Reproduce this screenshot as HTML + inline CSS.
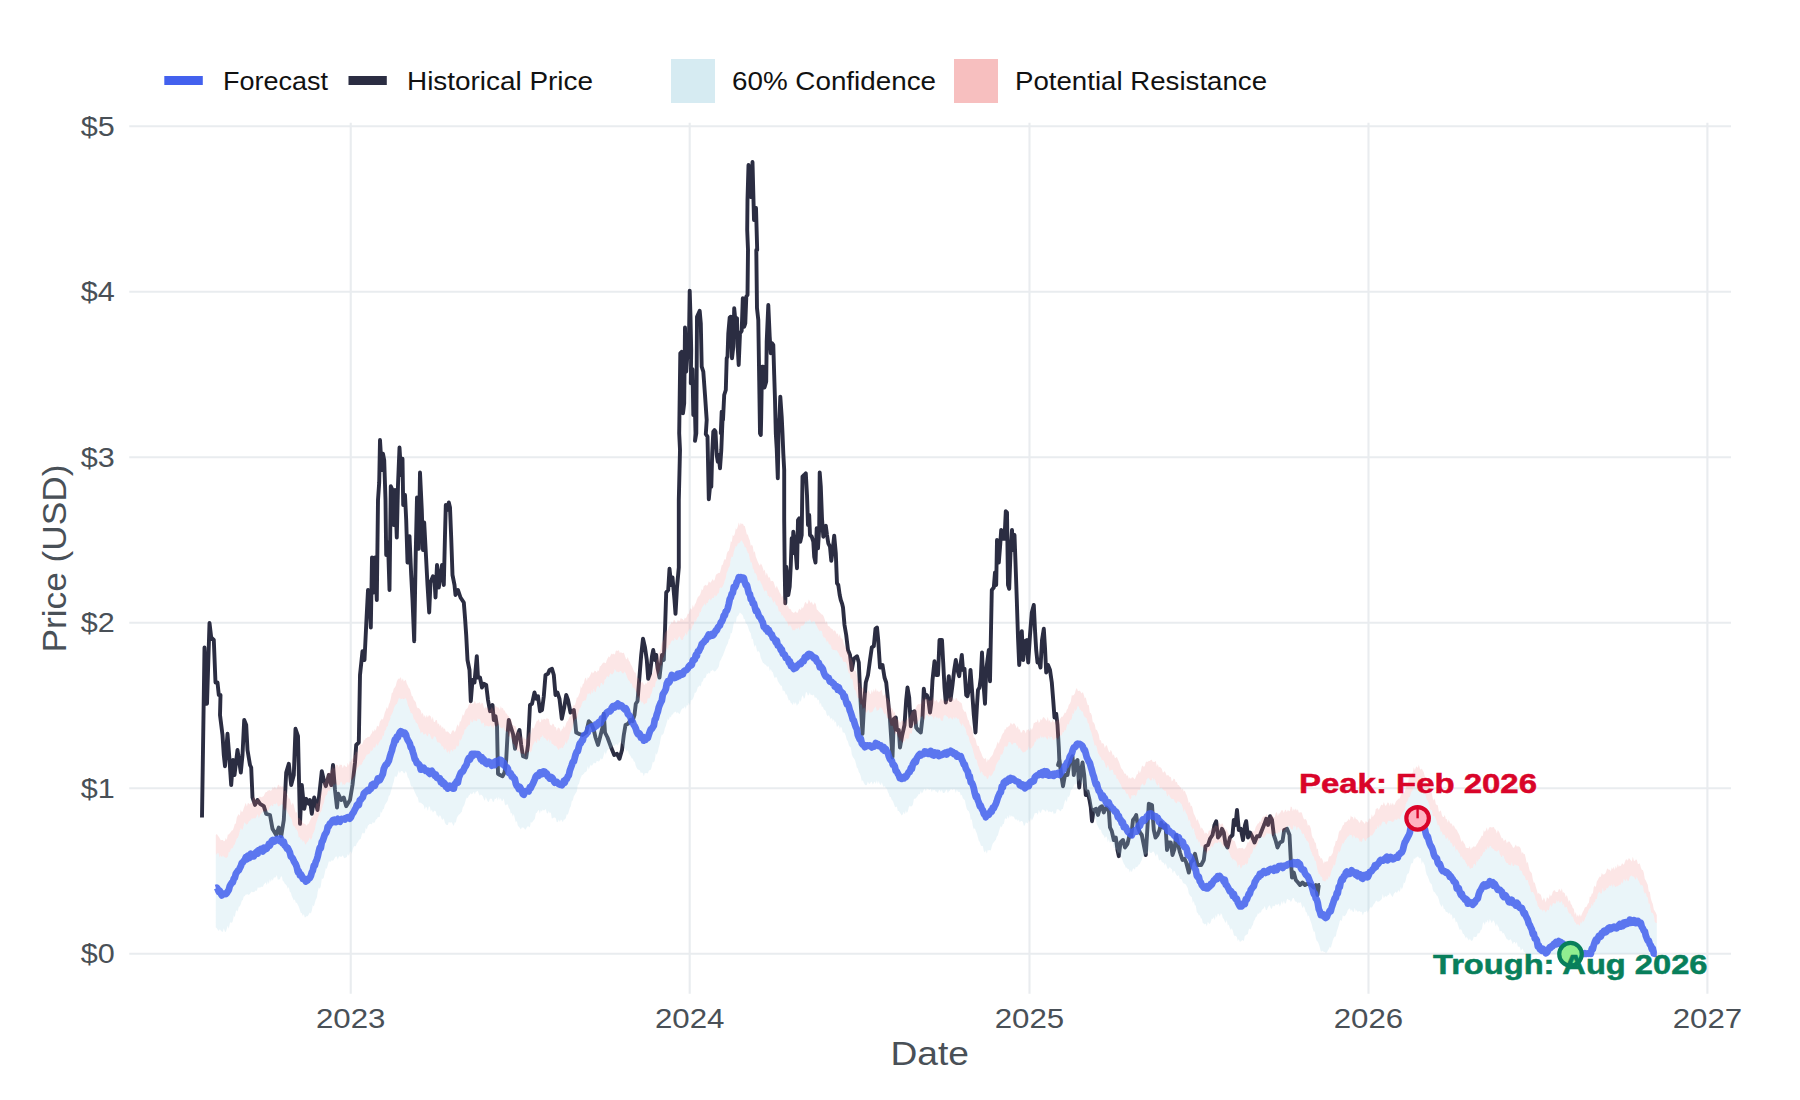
<!DOCTYPE html>
<html><head><meta charset="utf-8"><title>Price Forecast</title>
<style>html,body{margin:0;padding:0;background:#fff;width:1800px;height:1100px;overflow:hidden;font-family:"Liberation Sans",sans-serif}</style>
</head><body>
<svg width="1800" height="1100" viewBox="0 0 1800 1100" style="position:absolute;left:0;top:0">
<rect width="1800" height="1100" fill="#ffffff"/>
<g stroke="#e9ecef" stroke-width="2.1" fill="none"><line x1="129.25" y1="953.75" x2="1731" y2="953.75"/><line x1="129.25" y1="788.25" x2="1731" y2="788.25"/><line x1="129.25" y1="622.75" x2="1731" y2="622.75"/><line x1="129.25" y1="457.25" x2="1731" y2="457.25"/><line x1="129.25" y1="291.75" x2="1731" y2="291.75"/><line x1="129.25" y1="126.25" x2="1731" y2="126.25"/><line x1="350.75" y1="122.8" x2="350.75" y2="993.75"/><line x1="689.7" y1="122.8" x2="689.7" y2="993.75"/><line x1="1029.5" y1="122.8" x2="1029.5" y2="993.75"/><line x1="1368.5" y1="122.8" x2="1368.5" y2="993.75"/><line x1="1707.4" y1="122.8" x2="1707.4" y2="993.75"/></g>
<path d="M202.0 817.5L204.5 647.5L207.0 703.8L209.5 623.0L211.2 637.5L213.8 640.0L215.5 682.5L217.5 682.5L218.8 695.0L220.5 695.0L220.0 715.0L222.5 735.0L223.8 755.0L225.0 766.2L227.5 733.8L229.5 760.0L231.2 785.0L233.0 760.0L234.5 775.0L237.5 750.0L240.8 772.5L242.5 755.0L244.2 720.0L246.2 725.0L247.5 750.0L250.0 765.0L251.2 767.5L252.5 797.5L255.0 805.0L257.5 800.0L260.0 803.8L263.8 806.2L266.2 813.8L270.0 815.0L272.5 828.8L276.2 835.0L278.8 827.5L281.2 836.2L283.8 820.0L286.2 772.5L288.8 763.8L291.2 785.0L293.8 775.0L295.5 728.8L298.0 736.2L300.0 823.8L301.8 785.0L304.2 808.8L306.2 798.8L308.8 803.8L310.0 800.0L311.8 813.8L314.2 797.5L317.5 810.0L319.5 792.5L321.8 771.2L323.8 780.0L325.8 786.2L328.8 775.0L331.2 785.0L333.0 765.0L335.0 790.0L337.0 807.5L338.2 793.8L341.2 800.0L343.8 797.5L346.2 806.2L350.0 800.0L352.5 785.0L355.0 762.5L356.2 745.0L358.8 742.5L360.0 675.0L362.5 651.2L364.5 660.0L366.2 625.0L368.0 590.0L369.5 592.5L370.8 627.5L372.0 557.5L373.8 592.5L375.0 557.5L376.8 600.0L378.0 500.0L379.2 482.5L380.0 440.0L381.8 470.0L383.0 453.8L384.2 460.0L385.5 500.0L386.2 555.0L388.0 542.5L389.5 590.0L390.8 486.2L392.5 490.0L393.8 525.0L395.0 490.0L396.8 537.5L398.0 485.0L399.5 447.5L401.2 475.0L402.5 458.8L403.2 505.0L405.0 495.0L406.2 520.0L407.5 562.5L409.5 536.2L411.2 575.0L412.5 600.0L414.2 641.2L415.8 550.0L417.0 497.5L418.8 548.8L420.0 472.5L421.8 510.0L423.0 550.0L424.2 522.5L426.2 560.0L427.5 585.0L429.2 612.5L430.5 582.5L433.0 576.2L434.5 580.0L435.5 597.5L437.0 565.0L438.8 587.5L440.5 575.0L442.0 565.0L443.8 585.0L445.0 535.0L445.8 505.0L447.5 510.0L448.8 502.5L450.0 507.5L451.2 537.5L452.5 575.0L454.5 585.0L455.5 595.0L458.0 590.0L460.5 597.5L463.8 602.5L465.0 617.5L466.2 635.0L467.5 660.0L469.5 670.0L470.8 701.2L472.5 680.0L474.5 682.5L476.8 656.2L478.0 677.5L480.0 677.5L482.0 687.5L483.8 683.8L486.2 685.0L488.0 700.0L490.0 711.2L492.5 705.0L493.8 720.0L495.5 716.2L497.0 726.2L498.0 773.8L500.0 775.0L502.5 776.2L504.5 772.5L506.2 760.0L507.5 735.0L508.8 720.0L510.5 726.2L513.0 733.8L515.0 748.8L517.5 735.0L519.5 730.0L521.2 745.0L523.0 756.2L526.2 757.5L528.0 745.0L530.0 705.0L532.0 703.8L534.5 692.5L536.2 698.8L538.0 696.2L540.0 711.2L542.0 710.0L543.8 696.2L545.5 675.0L548.0 673.8L549.5 670.0L552.0 668.8L553.8 675.0L555.5 695.0L557.5 692.5L559.5 698.8L561.8 718.8L564.2 707.5L566.2 695.0L568.0 700.0L570.5 712.5L573.8 710.0L575.0 720.0L576.2 732.5L578.8 733.8L582.5 735.0L586.2 732.5L588.8 721.2L591.2 723.8L593.8 730.0L595.5 737.5L598.0 745.0L600.0 737.5L602.5 727.5L603.8 713.8L605.0 732.5L607.5 737.5L611.2 747.5L614.2 755.0L617.0 753.8L619.5 758.8L622.0 750.0L623.8 735.0L625.5 725.0L628.0 723.8L630.5 720.0L632.5 721.2L634.5 715.0L635.8 703.8L637.5 701.2L638.8 685.0L640.0 670.0L641.2 655.0L643.0 638.8L645.0 647.5L646.8 660.0L648.2 678.8L650.0 673.8L652.0 656.2L653.2 650.0L655.0 660.0L656.2 655.0L657.5 667.5L659.5 677.5L662.0 655.0L663.8 660.0L665.0 630.0L666.2 592.5L668.2 590.0L669.5 568.8L671.2 585.0L672.5 577.5L674.5 600.0L675.5 613.8L677.0 587.5L678.8 567.5L678.8 500.0L680.0 450.0L679.2 433.3L680.3 353.3L681.7 351.7L683.0 413.3L684.2 403.3L685.0 327.5L686.2 371.7L687.5 353.3L688.7 356.7L689.7 290.8L690.5 316.7L691.2 350.0L690.8 383.3L692.5 369.2L693.3 415.0L694.7 400.0L695.5 433.3L695.0 440.8L696.3 433.3L697.0 316.7L699.7 310.8L700.8 323.3L701.7 366.7L703.3 371.7L705.0 395.0L706.7 420.0L705.8 434.2L707.5 436.7L708.8 499.2L710.0 486.7L711.3 486.7L712.2 453.3L713.3 431.7L714.5 430.0L715.5 431.7L716.7 455.0L717.8 461.7L718.7 455.0L720.0 468.3L721.3 450.0L722.5 420.0L720.8 433.3L721.7 411.7L723.0 420.0L724.2 395.0L725.8 390.0L726.7 358.3L727.5 356.7L728.3 333.3L729.7 317.5L730.8 316.7L732.0 358.3L733.3 346.7L734.2 308.3L735.3 320.0L737.0 318.3L737.5 343.3L738.7 365.0L740.0 333.3L741.7 330.8L742.8 298.3L744.2 326.7L745.3 323.3L746.3 296.7L747.5 295.0L748.0 250.0L747.2 230.0L747.5 200.0L748.5 165.0L750.5 197.0L752.5 162.0L754.0 220.0L756.0 208.0L757.2 250.0L756.3 250.0L757.0 308.3L758.3 320.0L759.2 380.0L760.0 433.3L760.8 435.0L761.2 416.7L762.0 366.7L763.3 366.7L764.5 387.5L766.2 381.7L766.7 341.7L768.3 305.0L769.7 336.7L770.8 353.3L772.0 343.3L773.3 345.0L774.2 375.0L775.0 400.0L775.8 433.3L776.7 448.3L777.8 478.3L778.7 420.0L779.2 425.0L780.3 396.7L781.7 416.7L782.5 433.3L783.3 453.3L784.2 470.0L784.2 520.0L784.7 570.0L785.3 603.3L786.2 566.7L787.5 580.0L788.3 595.0L789.7 586.7L790.8 565.0L791.7 538.3L792.5 553.3L793.3 531.7L794.7 543.3L795.8 553.3L797.0 568.3L798.0 520.0L799.2 518.3L800.3 541.7L801.7 535.0L802.5 476.7L804.2 475.0L805.8 473.3L807.0 495.0L808.0 525.0L809.2 515.0L810.0 535.0L811.7 536.7L813.3 541.7L814.2 556.7L815.5 562.5L816.7 528.3L818.0 548.3L819.2 528.3L819.7 472.5L820.8 486.7L822.0 518.3L823.3 536.7L824.7 526.7L825.8 525.8L827.0 535.0L828.3 543.3L830.0 546.7L831.3 560.8L832.5 551.7L834.2 535.8L835.8 553.3L837.0 583.3L838.3 585.0L839.7 595.0L840.8 600.0L842.0 603.3L843.0 607.5L844.5 625.0L846.2 635.0L848.0 650.0L850.0 655.0L851.8 670.0L853.8 658.8L857.0 656.2L858.8 662.5L860.5 700.0L862.5 733.8L864.2 702.5L865.8 682.5L868.0 675.0L870.0 660.0L871.8 647.5L873.8 646.2L875.5 628.8L877.0 627.5L878.2 640.0L880.0 667.5L882.5 665.0L884.5 677.5L886.2 682.5L888.0 700.0L890.0 720.0L892.5 757.5L893.8 718.8L895.8 717.5L897.0 730.0L898.8 730.0L900.0 747.5L902.0 736.2L904.5 725.0L906.2 700.0L907.5 687.5L909.2 697.5L910.8 726.2L912.5 712.5L914.5 711.2L916.2 727.5L918.0 730.0L920.8 732.5L922.5 717.5L923.8 688.8L925.0 697.5L926.8 695.0L928.2 698.8L930.0 712.5L931.2 703.8L932.5 680.0L934.5 661.2L936.2 675.0L938.0 675.0L939.5 640.0L942.0 640.0L943.2 662.5L944.5 687.5L945.8 702.5L947.5 690.0L948.8 676.2L950.5 700.0L952.5 685.0L954.2 670.0L955.8 660.0L957.5 670.0L959.2 676.2L960.5 665.0L961.8 655.0L963.0 670.0L964.5 668.8L966.2 695.0L967.5 696.2L969.2 687.5L970.5 670.0L972.0 690.0L973.8 715.0L975.5 732.5L977.0 705.0L978.0 690.0L979.5 687.5L980.8 677.5L982.0 652.5L983.2 680.0L985.0 703.8L986.2 670.0L987.5 660.0L988.8 650.0L990.0 681.2L990.8 640.0L991.8 590.0L993.8 587.5L995.0 572.5L996.2 585.0L997.0 540.0L998.8 562.5L1000.0 547.5L1001.2 530.0L1003.0 538.8L1004.5 538.8L1005.8 511.2L1007.0 512.5L1008.0 585.0L1009.2 588.8L1010.5 552.5L1012.0 530.0L1013.2 550.0L1014.5 535.0L1015.5 562.5L1016.8 600.0L1018.0 637.5L1019.2 665.0L1020.8 642.5L1021.8 631.2L1023.2 660.0L1025.0 641.2L1026.8 640.0L1028.2 662.5L1030.0 635.0L1031.8 612.5L1033.8 605.0L1035.0 630.0L1036.2 650.0L1037.5 662.5L1039.2 662.5L1040.5 667.5L1042.0 640.0L1043.8 628.8L1045.0 647.5L1046.2 672.5L1048.0 665.0L1050.0 670.0L1051.8 682.5L1053.2 700.0L1054.5 717.5L1056.2 713.8L1057.5 725.0L1058.8 747.5L1059.5 765.0L1058.0 765.0L1059.5 760.0L1061.2 775.0L1063.0 786.2L1065.0 775.0L1067.5 775.0L1069.2 765.0L1070.8 760.0L1072.5 756.2L1073.8 775.0L1075.5 762.5L1077.5 760.0L1079.2 787.5L1080.8 772.5L1082.5 762.5L1084.2 775.0L1085.8 795.0L1087.5 791.2L1089.5 800.0L1090.8 807.5L1092.0 821.2L1093.8 810.0L1096.2 808.8L1098.0 815.0L1100.0 807.5L1102.0 806.2L1103.8 812.5L1106.2 807.5L1108.8 810.0L1110.0 827.5L1111.8 831.2L1113.8 840.0L1115.8 837.5L1117.5 850.0L1118.8 856.2L1120.5 842.5L1123.0 840.0L1125.0 847.5L1127.5 843.8L1129.5 835.0L1131.2 836.2L1133.0 820.0L1135.0 817.5L1136.2 815.0L1138.0 827.5L1140.0 832.5L1141.8 835.0L1143.8 845.0L1145.8 855.0L1147.0 835.0L1148.8 803.8L1152.0 805.0L1153.8 830.0L1155.5 837.5L1157.5 835.0L1159.5 830.0L1161.2 822.5L1163.2 827.5L1165.5 825.0L1167.0 850.0L1168.8 842.5L1170.8 842.5L1172.5 855.0L1174.5 848.8L1176.2 835.0L1178.2 845.0L1180.0 852.5L1182.5 860.0L1184.5 858.8L1186.2 862.5L1188.8 872.5L1190.8 862.5L1193.0 860.0L1195.0 853.8L1197.5 865.0L1201.2 865.0L1203.8 860.0L1205.5 846.2L1208.0 845.0L1210.0 838.8L1212.5 835.0L1214.5 825.0L1216.2 821.2L1218.0 837.5L1220.0 835.0L1222.0 828.8L1223.8 832.5L1225.5 843.8L1227.5 847.5L1230.0 837.5L1232.5 835.0L1233.8 820.0L1235.5 825.0L1237.0 810.0L1238.8 830.0L1240.8 828.8L1243.0 840.0L1245.0 825.0L1246.2 821.2L1248.0 837.5L1250.0 832.5L1252.0 836.2L1254.5 842.5L1257.0 836.2L1259.5 836.2L1262.0 830.0L1264.5 823.8L1266.2 818.8L1268.0 825.0L1270.0 816.2L1272.0 820.0L1273.8 835.0L1275.5 840.0L1277.5 847.5L1280.0 842.5L1282.5 841.2L1284.2 830.0L1287.0 828.8L1289.5 835.0L1290.8 860.0L1292.0 877.5L1293.8 872.5L1295.8 880.0L1298.0 882.5L1300.0 885.0L1302.5 882.5L1305.0 885.0L1307.5 883.8L1311.2 885.0L1313.8 887.5L1315.8 885.0L1317.5 895.0L1318.8 885.0L1320.0 885.0" fill="none" stroke="#2b2d42" stroke-width="3.9" stroke-linejoin="round" stroke-linecap="butt"/>
<path d="M215.8 852.7L216.8 855.1L217.8 852.4L218.8 853.9L219.8 857.7L220.8 854.9L221.8 857.4L222.8 855.4L223.8 856.6L224.8 857.2L225.8 857.9L226.8 857.5L227.8 856.7L228.8 851.7L229.8 852.2L230.8 849.1L231.8 848.3L232.8 848.2L233.8 844.9L234.8 844.4L235.8 841.1L236.8 838.4L237.8 837.8L238.8 835.6L239.8 831.0L240.8 827.8L241.8 829.7L242.8 829.5L243.8 824.6L244.8 821.9L245.8 823.9L246.8 824.4L247.8 823.8L248.8 821.2L249.8 820.7L250.8 819.9L251.8 818.0L252.8 819.0L253.8 817.9L254.8 818.5L255.8 818.0L256.8 816.1L257.8 813.9L258.8 818.3L259.8 815.8L260.8 813.8L261.8 813.2L262.8 811.1L263.8 811.9L264.8 810.7L265.8 812.3L266.8 809.6L267.8 811.5L268.8 809.7L269.8 806.7L270.8 805.8L271.8 805.1L272.8 806.8L273.8 803.6L274.8 803.9L275.8 804.3L276.8 802.6L277.8 806.1L278.8 806.5L279.8 805.6L280.8 804.9L281.8 804.0L282.8 805.1L283.8 809.4L284.8 810.7L285.8 807.6L286.8 810.7L287.8 813.0L288.8 814.5L289.8 817.1L290.8 817.7L291.8 819.6L292.8 825.0L293.8 826.2L294.8 826.5L295.8 829.5L296.8 829.4L297.8 832.0L298.8 837.7L299.8 836.7L300.8 840.2L301.8 839.1L302.8 842.0L303.8 840.3L304.8 843.5L305.8 844.8L306.8 842.3L307.8 841.8L308.8 839.8L309.8 837.5L310.8 840.0L311.8 838.2L312.8 833.7L313.8 832.2L314.8 829.7L315.8 824.0L316.8 821.3L317.8 818.0L318.8 815.4L319.8 811.9L320.8 812.6L321.8 809.4L322.8 805.0L323.8 803.3L324.8 798.3L325.8 795.4L326.8 795.0L327.8 791.7L328.8 790.1L329.8 791.4L330.8 785.9L331.8 787.7L332.8 786.7L333.8 783.3L334.8 785.0L335.8 783.0L336.8 784.9L337.8 785.3L338.8 785.2L339.8 784.5L340.8 781.5L341.8 782.3L342.8 785.4L343.8 783.7L344.8 785.3L345.8 783.1L346.8 782.3L347.8 782.2L348.8 782.8L349.8 782.6L350.8 778.5L351.8 780.4L352.8 779.1L353.8 776.9L354.8 775.7L355.8 772.6L356.8 769.6L357.8 767.2L358.8 766.4L359.8 764.1L360.8 765.6L361.8 764.2L362.8 761.7L363.8 759.7L364.8 758.9L365.8 756.5L366.8 754.5L367.8 754.6L368.8 754.1L369.8 753.3L370.8 749.8L371.8 751.3L372.8 749.7L373.8 746.7L374.8 748.2L375.8 745.8L376.8 743.6L377.8 746.3L378.8 743.1L379.8 741.3L380.8 739.3L381.8 740.1L382.8 735.0L383.8 736.2L384.8 730.5L385.8 730.2L386.8 726.3L387.8 726.6L388.8 721.8L389.8 720.3L390.8 715.7L391.8 714.3L392.8 712.3L393.8 708.4L394.8 706.0L395.8 704.4L396.8 704.1L397.8 701.6L398.8 698.2L399.8 698.2L400.8 699.2L401.8 698.9L402.8 698.4L403.8 699.5L404.8 698.6L405.8 698.2L406.8 700.4L407.8 705.1L408.8 707.1L409.8 710.0L410.8 713.3L411.8 713.0L412.8 714.7L413.8 720.0L414.8 719.2L415.8 722.4L416.8 723.0L417.8 724.6L418.8 728.0L419.8 729.4L420.8 733.6L421.8 732.1L422.8 732.3L423.8 734.9L424.8 734.1L425.8 733.4L426.8 735.8L427.8 736.4L428.8 733.1L429.8 734.3L430.8 737.1L431.8 739.1L432.8 739.3L433.8 736.7L434.8 736.2L435.8 737.1L436.8 741.0L437.8 742.4L438.8 742.4L439.8 742.8L440.8 744.3L441.8 746.7L442.8 746.1L443.8 748.8L444.8 749.9L445.8 748.0L446.8 752.0L447.8 752.7L448.8 750.5L449.8 754.0L450.8 749.6L451.8 750.1L452.8 751.8L453.8 749.0L454.8 749.7L455.8 748.7L456.8 745.0L457.8 746.7L458.8 745.6L459.8 739.0L460.8 740.8L461.8 738.2L462.8 735.0L463.8 734.1L464.8 728.8L465.8 729.7L466.8 726.7L467.8 726.4L468.8 724.4L469.8 725.1L470.8 719.3L471.8 722.6L472.8 722.1L473.8 719.3L474.8 721.1L475.8 720.5L476.8 721.6L477.8 718.2L478.8 719.5L479.8 719.0L480.8 721.8L481.8 724.2L482.8 722.7L483.8 722.7L484.8 727.6L485.8 725.1L486.8 726.0L487.8 725.9L488.8 726.8L489.8 726.1L490.8 724.7L491.8 727.5L492.8 725.7L493.8 729.6L494.8 724.5L495.8 726.3L496.8 726.6L497.8 724.8L498.8 724.8L499.8 726.8L500.8 727.9L501.8 728.0L502.8 728.9L503.8 726.3L504.8 731.1L505.8 731.1L506.8 732.1L507.8 731.3L508.8 737.2L509.8 735.6L510.8 737.9L511.8 739.0L512.8 743.5L513.8 744.1L514.8 745.5L515.8 748.1L516.8 749.5L517.8 752.2L518.8 750.0L519.8 752.3L520.8 753.0L521.8 754.1L522.8 753.8L523.8 753.8L524.8 753.9L525.8 757.6L526.8 752.8L527.8 752.2L528.8 752.1L529.8 750.7L530.8 752.7L531.8 749.9L532.8 744.9L533.8 743.7L534.8 741.3L535.8 741.5L536.8 743.4L537.8 737.9L538.8 741.0L539.8 740.5L540.8 736.4L541.8 737.3L542.8 734.7L543.8 738.6L544.8 737.4L545.8 739.2L546.8 740.3L547.8 741.2L548.8 738.4L549.8 743.0L550.8 739.6L551.8 744.3L552.8 743.9L553.8 744.9L554.8 746.0L555.8 745.5L556.8 747.3L557.8 749.1L558.8 750.1L559.8 747.8L560.8 748.4L561.8 747.1L562.8 748.7L563.8 745.6L564.8 744.4L565.8 741.0L566.8 744.0L567.8 739.9L568.8 739.3L569.8 734.0L570.8 731.7L571.8 730.1L572.8 726.2L573.8 722.0L574.8 719.0L575.8 719.0L576.8 718.0L577.8 714.6L578.8 710.7L579.8 707.9L580.8 707.3L581.8 704.0L582.8 701.2L583.8 701.1L584.8 700.3L585.8 700.5L586.8 696.4L587.8 693.3L588.8 694.2L589.8 692.8L590.8 694.9L591.8 690.0L592.8 693.7L593.8 688.6L594.8 691.9L595.8 691.8L596.8 687.1L597.8 686.0L598.8 686.4L599.8 688.2L600.8 683.1L601.8 682.8L602.8 685.0L603.8 684.3L604.8 679.3L605.8 679.2L606.8 676.4L607.8 675.9L608.8 677.6L609.8 674.1L610.8 673.2L611.8 674.5L612.8 674.0L613.8 672.4L614.8 668.9L615.8 670.5L616.8 672.2L617.8 671.6L618.8 672.5L619.8 671.2L620.8 670.8L621.8 672.6L622.8 673.4L623.8 672.9L624.8 671.4L625.8 673.7L626.8 676.4L627.8 679.0L628.8 680.4L629.8 681.2L630.8 684.3L631.8 683.1L632.8 688.2L633.8 687.4L634.8 688.9L635.8 691.3L636.8 692.5L637.8 698.2L638.8 695.5L639.8 701.5L640.8 700.1L641.8 703.4L642.8 701.6L643.8 704.4L644.8 704.1L645.8 702.9L646.8 703.2L647.8 697.9L648.8 698.4L649.8 698.1L650.8 694.6L651.8 693.1L652.8 688.1L653.8 686.5L654.8 687.6L655.8 681.8L656.8 680.7L657.8 674.4L658.8 672.9L659.8 670.0L660.8 664.8L661.8 665.4L662.8 658.0L663.8 656.9L664.8 653.1L665.8 650.6L666.8 647.0L667.8 649.9L668.8 645.0L669.8 645.0L670.8 642.7L671.8 640.6L672.8 640.2L673.8 641.0L674.8 637.5L675.8 640.1L676.8 640.1L677.8 639.4L678.8 636.8L679.8 636.6L680.8 638.9L681.8 640.3L682.8 639.7L683.8 636.4L684.8 635.4L685.8 632.4L686.8 636.1L687.8 631.8L688.8 630.5L689.8 628.0L690.8 631.0L691.8 628.2L692.8 625.3L693.8 624.4L694.8 619.2L695.8 622.3L696.8 618.6L697.8 617.0L698.8 615.9L699.8 611.5L700.8 612.4L701.8 607.9L702.8 606.6L703.8 605.1L704.8 603.4L705.8 605.8L706.8 602.4L707.8 603.1L708.8 599.7L709.8 598.5L710.8 600.5L711.8 598.5L712.8 597.6L713.8 597.9L714.8 594.7L715.8 596.4L716.8 595.6L717.8 593.3L718.8 593.2L719.8 587.8L720.8 587.4L721.8 588.0L722.8 585.9L723.8 583.7L724.8 580.6L725.8 578.2L726.8 572.3L727.8 570.4L728.8 567.2L729.8 566.3L730.8 558.8L731.8 556.2L732.8 557.3L733.8 552.0L734.8 548.5L735.8 546.0L736.8 546.5L737.8 543.4L738.8 543.2L739.8 542.4L740.8 541.1L741.8 540.2L742.8 542.5L743.8 544.3L744.8 547.6L745.8 546.7L746.8 550.2L747.8 552.8L748.8 553.7L749.8 559.0L750.8 562.8L751.8 562.3L752.8 568.4L753.8 569.4L754.8 573.5L755.8 573.2L756.8 575.7L757.8 580.7L758.8 580.5L759.8 580.1L760.8 582.9L761.8 584.3L762.8 587.5L763.8 590.0L764.8 591.7L765.8 589.9L766.8 591.2L767.8 595.7L768.8 596.0L769.8 597.9L770.8 596.2L771.8 598.5L772.8 601.2L773.8 602.9L774.8 600.6L775.8 604.8L776.8 605.4L777.8 606.6L778.8 611.3L779.8 611.5L780.8 612.4L781.8 616.0L782.8 615.0L783.8 617.8L784.8 618.0L785.8 621.5L786.8 621.1L787.8 624.1L788.8 626.7L789.8 624.7L790.8 626.2L791.8 628.5L792.8 630.4L793.8 630.1L794.8 630.6L795.8 628.6L796.8 628.6L797.8 628.7L798.8 627.0L799.8 630.8L800.8 625.6L801.8 626.1L802.8 625.5L803.8 625.2L804.8 623.1L805.8 620.7L806.8 622.5L807.8 620.0L808.8 621.2L809.8 618.9L810.8 621.2L811.8 622.8L812.8 621.2L813.8 621.4L814.8 621.6L815.8 624.9L816.8 625.7L817.8 628.6L818.8 630.0L819.8 631.2L820.8 630.4L821.8 631.0L822.8 635.8L823.8 637.8L824.8 637.6L825.8 639.1L826.8 642.6L827.8 640.4L828.8 644.1L829.8 644.6L830.8 645.3L831.8 649.1L832.8 649.7L833.8 650.1L834.8 649.8L835.8 650.7L836.8 649.9L837.8 652.0L838.8 653.5L839.8 655.9L840.8 657.5L841.8 657.1L842.8 660.7L843.8 661.9L844.8 661.7L845.8 662.0L846.8 664.5L847.8 669.3L848.8 673.2L849.8 673.3L850.8 679.4L851.8 678.2L852.8 680.8L853.8 687.9L854.8 689.9L855.8 690.8L856.8 695.3L857.8 698.8L858.8 697.6L859.8 702.1L860.8 705.1L861.8 704.0L862.8 709.6L863.8 707.3L864.8 707.8L865.8 712.3L866.8 712.7L867.8 710.5L868.8 709.4L869.8 712.9L870.8 712.3L871.8 712.3L872.8 711.2L873.8 708.8L874.8 707.5L875.8 706.5L876.8 711.0L877.8 710.3L878.8 709.9L879.8 707.2L880.8 707.4L881.8 708.2L882.8 710.2L883.8 713.0L884.8 714.6L885.8 713.1L886.8 717.5L887.8 718.2L888.8 718.4L889.8 722.4L890.8 725.9L891.8 725.6L892.8 726.0L893.8 729.5L894.8 733.2L895.8 734.6L896.8 732.7L897.8 736.2L898.8 737.7L899.8 741.7L900.8 738.9L901.8 741.7L902.8 743.1L903.8 740.5L904.8 742.0L905.8 737.8L906.8 738.7L907.8 738.9L908.8 737.9L909.8 733.2L910.8 733.3L911.8 733.7L912.8 727.0L913.8 725.7L914.8 724.4L915.8 723.8L916.8 724.6L917.8 720.9L918.8 721.3L919.8 718.4L920.8 716.9L921.8 716.5L922.8 715.9L923.8 719.6L924.8 719.5L925.8 715.4L926.8 714.8L927.8 715.6L928.8 717.2L929.8 716.1L930.8 715.7L931.8 716.2L932.8 716.8L933.8 719.7L934.8 716.4L935.8 716.4L936.8 718.6L937.8 717.0L938.8 718.9L939.8 717.0L940.8 720.2L941.8 720.8L942.8 720.7L943.8 715.8L944.8 715.2L945.8 715.3L946.8 716.6L947.8 717.0L948.8 719.0L949.8 718.0L950.8 717.3L951.8 719.1L952.8 719.5L953.8 716.4L954.8 719.2L955.8 716.8L956.8 718.1L957.8 719.2L958.8 718.5L959.8 723.0L960.8 724.0L961.8 726.2L962.8 722.9L963.8 726.2L964.8 727.2L965.8 729.5L966.8 734.6L967.8 735.5L968.8 737.1L969.8 742.2L970.8 743.8L971.8 746.6L972.8 749.5L973.8 753.5L974.8 757.9L975.8 759.3L976.8 760.3L977.8 764.9L978.8 767.3L979.8 770.8L980.8 773.5L981.8 770.8L982.8 774.5L983.8 775.3L984.8 776.6L985.8 776.1L986.8 778.2L987.8 779.3L988.8 776.5L989.8 774.6L990.8 776.7L991.8 774.9L992.8 773.5L993.8 770.9L994.8 770.5L995.8 765.4L996.8 763.5L997.8 762.0L998.8 760.1L999.8 759.6L1000.8 754.1L1001.8 754.9L1002.8 753.2L1003.8 749.7L1004.8 746.3L1005.8 746.4L1006.8 746.7L1007.8 745.2L1008.8 741.7L1009.8 742.0L1010.8 742.7L1011.8 744.8L1012.8 744.4L1013.8 742.5L1014.8 742.9L1015.8 742.7L1016.8 745.8L1017.8 745.6L1018.8 749.2L1019.8 747.2L1020.8 749.4L1021.8 751.0L1022.8 752.3L1023.8 752.5L1024.8 751.7L1025.8 751.6L1026.8 749.8L1027.8 750.0L1028.8 746.1L1029.8 750.2L1030.8 747.9L1031.8 748.0L1032.8 746.2L1033.8 745.6L1034.8 741.4L1035.8 741.8L1036.8 738.3L1037.8 740.0L1038.8 737.6L1039.8 739.0L1040.8 735.3L1041.8 738.3L1042.8 736.3L1043.8 738.3L1044.8 736.3L1045.8 737.6L1046.8 738.8L1047.8 739.7L1048.8 735.6L1049.8 739.2L1050.8 736.3L1051.8 737.0L1052.8 739.5L1053.8 740.1L1054.8 738.4L1055.8 738.4L1056.8 737.3L1057.8 739.8L1058.8 737.0L1059.8 735.6L1060.8 735.5L1061.8 735.2L1062.8 732.0L1063.8 732.3L1064.8 729.4L1065.8 730.7L1066.8 726.1L1067.8 723.5L1068.8 725.0L1069.8 720.6L1070.8 720.0L1071.8 718.5L1072.8 712.5L1073.8 714.5L1074.8 708.8L1075.8 711.5L1076.8 708.4L1077.8 705.6L1078.8 706.7L1079.8 709.5L1080.8 710.2L1081.8 711.5L1082.8 711.5L1083.8 715.4L1084.8 717.3L1085.8 717.6L1086.8 718.7L1087.8 723.0L1088.8 723.7L1089.8 728.6L1090.8 731.0L1091.8 733.9L1092.8 737.9L1093.8 741.9L1094.8 746.2L1095.8 744.7L1096.8 747.6L1097.8 752.8L1098.8 754.2L1099.8 756.4L1100.8 757.0L1101.8 760.4L1102.8 759.8L1103.8 761.1L1104.8 763.1L1105.8 767.2L1106.8 768.1L1107.8 764.5L1108.8 767.4L1109.8 771.3L1110.8 770.1L1111.8 769.8L1112.8 769.7L1113.8 775.1L1114.8 774.4L1115.8 775.0L1116.8 779.3L1117.8 778.7L1118.8 781.5L1119.8 783.1L1120.8 784.7L1121.8 787.7L1122.8 789.0L1123.8 789.8L1124.8 789.9L1125.8 792.4L1126.8 794.3L1127.8 793.6L1128.8 796.5L1129.8 798.8L1130.8 799.3L1131.8 794.8L1132.8 795.8L1133.8 795.2L1134.8 794.7L1135.8 796.5L1136.8 794.3L1137.8 790.2L1138.8 789.7L1139.8 790.6L1140.8 785.7L1141.8 784.5L1142.8 783.6L1143.8 785.6L1144.8 784.9L1145.8 783.4L1146.8 778.7L1147.8 778.4L1148.8 777.7L1149.8 779.8L1150.8 780.7L1151.8 780.1L1152.8 777.5L1153.8 781.0L1154.8 778.3L1155.8 782.8L1156.8 784.8L1157.8 786.0L1158.8 782.7L1159.8 788.1L1160.8 788.3L1161.8 787.6L1162.8 789.4L1163.8 790.0L1164.8 791.0L1165.8 790.6L1166.8 795.1L1167.8 796.5L1168.8 793.7L1169.8 796.5L1170.8 798.0L1171.8 798.9L1172.8 798.9L1173.8 798.9L1174.8 802.0L1175.8 802.7L1176.8 803.5L1177.8 801.1L1178.8 801.8L1179.8 802.0L1180.8 803.6L1181.8 804.6L1182.8 807.9L1183.8 812.3L1184.8 808.8L1185.8 812.8L1186.8 814.0L1187.8 817.1L1188.8 821.5L1189.8 819.3L1190.8 825.8L1191.8 827.2L1192.8 829.7L1193.8 828.0L1194.8 833.8L1195.8 836.6L1196.8 839.7L1197.8 839.1L1198.8 843.0L1199.8 841.1L1200.8 847.4L1201.8 845.2L1202.8 847.1L1203.8 848.6L1204.8 852.5L1205.8 850.6L1206.8 853.7L1207.8 851.0L1208.8 851.1L1209.8 849.7L1210.8 847.6L1211.8 845.2L1212.8 847.7L1213.8 844.3L1214.8 843.3L1215.8 842.2L1216.8 843.3L1217.8 843.0L1218.8 841.3L1219.8 843.0L1220.8 841.4L1221.8 844.3L1222.8 845.3L1223.8 847.5L1224.8 845.1L1225.8 848.1L1226.8 847.1L1227.8 848.4L1228.8 851.9L1229.8 853.3L1230.8 857.1L1231.8 858.1L1232.8 860.2L1233.8 858.5L1234.8 860.8L1235.8 860.5L1236.8 862.5L1237.8 867.7L1238.8 864.4L1239.8 864.8L1240.8 869.1L1241.8 866.9L1242.8 864.9L1243.8 865.3L1244.8 865.0L1245.8 863.0L1246.8 864.8L1247.8 863.0L1248.8 857.2L1249.8 858.6L1250.8 853.4L1251.8 854.0L1252.8 851.4L1253.8 846.6L1254.8 849.5L1255.8 846.3L1256.8 845.3L1257.8 843.2L1258.8 840.7L1259.8 838.2L1260.8 836.2L1261.8 837.7L1262.8 836.3L1263.8 838.3L1264.8 836.2L1265.8 835.3L1266.8 832.3L1267.8 834.0L1268.8 833.5L1269.8 833.4L1270.8 834.0L1271.8 834.6L1272.8 835.9L1273.8 835.7L1274.8 832.7L1275.8 833.5L1276.8 832.9L1277.8 834.0L1278.8 831.3L1279.8 833.3L1280.8 829.8L1281.8 829.9L1282.8 832.4L1283.8 830.3L1284.8 829.8L1285.8 828.4L1286.8 826.1L1287.8 826.7L1288.8 825.6L1289.8 825.9L1290.8 829.0L1291.8 829.4L1292.8 829.5L1293.8 824.6L1294.8 827.8L1295.8 825.5L1296.8 830.4L1297.8 826.7L1298.8 827.8L1299.8 829.2L1300.8 829.7L1301.8 833.2L1302.8 834.2L1303.8 833.2L1304.8 837.5L1305.8 838.6L1306.8 840.9L1307.8 841.2L1308.8 843.2L1309.8 847.9L1310.8 850.8L1311.8 852.9L1312.8 856.0L1313.8 856.4L1314.8 860.7L1315.8 860.7L1316.8 866.4L1317.8 870.9L1318.8 874.3L1319.8 873.9L1320.8 876.9L1321.8 876.6L1322.8 881.2L1323.8 880.4L1324.8 881.5L1325.8 880.9L1326.8 878.2L1327.8 880.2L1328.8 875.4L1329.8 877.7L1330.8 873.6L1331.8 869.8L1332.8 867.7L1333.8 864.3L1334.8 866.0L1335.8 861.7L1336.8 857.0L1337.8 853.9L1338.8 850.8L1339.8 852.6L1340.8 848.6L1341.8 844.9L1342.8 842.9L1343.8 843.4L1344.8 840.6L1345.8 839.5L1346.8 838.1L1347.8 836.3L1348.8 836.2L1349.8 834.3L1350.8 835.0L1351.8 835.2L1352.8 838.6L1353.8 834.7L1354.8 837.1L1355.8 838.5L1356.8 837.2L1357.8 838.3L1358.8 838.4L1359.8 842.1L1360.8 841.0L1361.8 842.3L1362.8 838.5L1363.8 838.0L1364.8 840.4L1365.8 841.2L1366.8 838.4L1367.8 837.8L1368.8 837.2L1369.8 837.0L1370.8 835.1L1371.8 835.8L1372.8 834.6L1373.8 832.9L1374.8 831.4L1375.8 828.8L1376.8 829.2L1377.8 825.2L1378.8 828.4L1379.8 824.1L1380.8 826.5L1381.8 823.3L1382.8 821.2L1383.8 821.8L1384.8 821.9L1385.8 823.9L1386.8 824.5L1387.8 821.4L1388.8 820.5L1389.8 821.1L1390.8 820.7L1391.8 821.8L1392.8 822.0L1393.8 821.3L1394.8 819.2L1395.8 819.4L1396.8 819.9L1397.8 818.6L1398.8 818.5L1399.8 819.5L1400.8 816.0L1401.8 814.3L1402.8 812.2L1403.8 810.9L1404.8 809.9L1405.8 803.7L1406.8 802.3L1407.8 800.5L1408.8 797.0L1409.8 796.9L1410.8 793.5L1411.8 791.0L1412.8 790.5L1413.8 785.9L1414.8 788.1L1415.8 784.1L1416.8 786.4L1417.8 783.7L1418.8 786.9L1419.8 787.4L1420.8 786.4L1421.8 786.5L1422.8 789.6L1423.8 793.3L1424.8 792.5L1425.8 795.7L1426.8 799.7L1427.8 801.1L1428.8 803.0L1429.8 808.0L1430.8 810.6L1431.8 810.0L1432.8 816.0L1433.8 815.9L1434.8 816.5L1435.8 819.0L1436.8 821.6L1437.8 825.5L1438.8 824.7L1439.8 827.5L1440.8 832.6L1441.8 831.3L1442.8 835.4L1443.8 834.2L1444.8 835.1L1445.8 839.1L1446.8 838.4L1447.8 837.2L1448.8 841.3L1449.8 839.5L1450.8 843.7L1451.8 842.5L1452.8 846.7L1453.8 846.7L1454.8 844.9L1455.8 851.5L1456.8 848.5L1457.8 850.4L1458.8 852.4L1459.8 853.5L1460.8 857.6L1461.8 856.0L1462.8 858.9L1463.8 859.4L1464.8 860.3L1465.8 863.1L1466.8 864.3L1467.8 866.9L1468.8 865.3L1469.8 868.5L1470.8 868.6L1471.8 867.8L1472.8 868.1L1473.8 863.9L1474.8 863.8L1475.8 866.0L1476.8 859.6L1477.8 862.1L1478.8 859.1L1479.8 859.1L1480.8 855.6L1481.8 856.4L1482.8 853.4L1483.8 851.7L1484.8 851.7L1485.8 848.4L1486.8 850.1L1487.8 846.0L1488.8 848.9L1489.8 845.9L1490.8 846.0L1491.8 848.1L1492.8 848.8L1493.8 849.3L1494.8 851.0L1495.8 850.7L1496.8 851.8L1497.8 850.8L1498.8 850.1L1499.8 854.3L1500.8 855.9L1501.8 857.2L1502.8 855.1L1503.8 856.4L1504.8 859.8L1505.8 862.0L1506.8 863.3L1507.8 863.0L1508.8 865.1L1509.8 864.8L1510.8 865.7L1511.8 862.0L1512.8 866.3L1513.8 865.9L1514.8 864.1L1515.8 865.3L1516.8 865.2L1517.8 865.7L1518.8 866.1L1519.8 870.3L1520.8 870.6L1521.8 871.1L1522.8 874.8L1523.8 875.5L1524.8 876.2L1525.8 880.0L1526.8 880.3L1527.8 880.1L1528.8 884.7L1529.8 886.1L1530.8 891.2L1531.8 892.4L1532.8 891.7L1533.8 893.4L1534.8 895.7L1535.8 900.2L1536.8 901.3L1537.8 906.3L1538.8 907.1L1539.8 909.1L1540.8 909.8L1541.8 909.2L1542.8 911.8L1543.8 909.5L1544.8 910.8L1545.8 912.6L1546.8 910.5L1547.8 909.5L1548.8 910.5L1549.8 906.0L1550.8 904.6L1551.8 907.0L1552.8 903.5L1553.8 902.9L1554.8 903.8L1555.8 903.6L1556.8 900.1L1557.8 902.7L1558.8 900.3L1559.8 903.3L1560.8 902.1L1561.8 900.7L1562.8 905.5L1563.8 903.6L1564.8 907.9L1565.8 906.7L1566.8 907.1L1567.8 910.4L1568.8 913.1L1569.8 913.7L1570.8 913.5L1571.8 916.8L1572.8 916.6L1573.8 919.8L1574.8 922.2L1575.8 922.9L1576.8 925.0L1577.8 923.8L1578.8 924.9L1579.8 925.8L1580.8 921.4L1581.8 923.4L1582.8 920.1L1583.8 922.0L1584.8 919.1L1585.8 916.7L1586.8 914.3L1587.8 912.5L1588.8 909.4L1589.8 908.3L1590.8 907.8L1591.8 903.3L1592.8 906.2L1593.8 902.3L1594.8 902.2L1595.8 898.7L1596.8 899.2L1597.8 894.0L1598.8 892.6L1599.8 891.8L1600.8 894.1L1601.8 893.2L1602.8 887.7L1603.8 892.0L1604.8 890.3L1605.8 890.2L1606.8 887.6L1607.8 888.2L1608.8 886.6L1609.8 885.2L1610.8 886.3L1611.8 884.3L1612.8 887.6L1613.8 884.0L1614.8 886.5L1615.8 887.2L1616.8 886.0L1617.8 886.2L1618.8 885.2L1619.8 884.8L1620.8 884.4L1621.8 881.5L1622.8 883.7L1623.8 878.6L1624.8 880.3L1625.8 881.2L1626.8 878.6L1627.8 881.4L1628.8 880.6L1629.8 876.4L1630.8 876.1L1631.8 875.6L1632.8 876.8L1633.8 876.6L1634.8 878.6L1635.8 879.7L1636.8 876.6L1637.8 879.5L1638.8 881.1L1639.8 883.3L1640.8 885.4L1641.8 884.9L1642.8 885.7L1643.8 891.3L1644.8 893.8L1645.8 892.5L1646.8 897.1L1647.8 897.5L1648.8 904.2L1649.8 903.3L1650.8 911.1L1651.8 913.0L1652.8 912.9L1653.8 915.4L1654.8 922.0L1655.8 922.7L1656.8 922.9L1656.8 953.8L1655.8 953.8L1654.8 953.8L1653.8 953.8L1652.8 953.8L1651.8 953.8L1650.8 953.8L1649.8 953.8L1648.8 953.8L1647.8 953.8L1646.8 953.8L1645.8 953.8L1644.8 953.8L1643.8 953.8L1642.8 953.8L1641.8 953.8L1640.8 953.8L1639.8 953.8L1638.8 953.8L1637.8 953.8L1636.8 953.8L1635.8 953.8L1634.8 953.8L1633.8 953.8L1632.8 953.8L1631.8 953.8L1630.8 953.8L1629.8 953.8L1628.8 953.8L1627.8 953.8L1626.8 953.8L1625.8 953.8L1624.8 953.8L1623.8 953.8L1622.8 953.8L1621.8 953.8L1620.8 953.8L1619.8 953.8L1618.8 953.8L1617.8 953.8L1616.8 953.8L1615.8 953.8L1614.8 953.8L1613.8 953.8L1612.8 953.8L1611.8 953.8L1610.8 953.8L1609.8 953.8L1608.8 953.8L1607.8 953.8L1606.8 953.8L1605.8 953.8L1604.8 953.8L1603.8 953.8L1602.8 953.8L1601.8 953.8L1600.8 953.8L1599.8 953.8L1598.8 953.8L1597.8 953.8L1596.8 953.8L1595.8 953.8L1594.8 953.8L1593.8 953.8L1592.8 953.8L1591.8 953.8L1590.8 953.8L1589.8 953.8L1588.8 953.8L1587.8 953.8L1586.8 953.8L1585.8 953.8L1584.8 953.8L1583.8 953.8L1582.8 953.8L1581.8 953.8L1580.8 953.8L1579.8 953.8L1578.8 953.8L1577.8 953.8L1576.8 953.8L1575.8 953.8L1574.8 953.8L1573.8 953.8L1572.8 953.8L1571.8 953.8L1570.8 953.8L1569.8 953.8L1568.8 953.8L1567.8 953.8L1566.8 953.8L1565.8 953.8L1564.8 953.8L1563.8 953.8L1562.8 953.8L1561.8 953.8L1560.8 953.8L1559.8 953.8L1558.8 953.8L1557.8 953.8L1556.8 953.8L1555.8 953.8L1554.8 953.8L1553.8 953.8L1552.8 953.8L1551.8 953.8L1550.8 953.8L1549.8 953.8L1548.8 953.8L1547.8 953.8L1546.8 953.8L1545.8 953.8L1544.8 953.8L1543.8 953.8L1542.8 953.8L1541.8 953.8L1540.8 953.8L1539.8 953.8L1538.8 953.8L1537.8 953.8L1536.8 953.8L1535.8 953.8L1534.8 953.8L1533.8 953.8L1532.8 953.8L1531.8 953.8L1530.8 953.8L1529.8 953.8L1528.8 953.8L1527.8 953.8L1526.8 953.8L1525.8 953.8L1524.8 952.0L1523.8 952.1L1522.8 948.5L1521.8 949.4L1520.8 950.4L1519.8 946.8L1518.8 946.8L1517.8 946.6L1516.8 941.8L1515.8 944.0L1514.8 942.1L1513.8 941.9L1512.8 944.2L1511.8 941.4L1510.8 939.3L1509.8 939.7L1508.8 940.4L1507.8 939.4L1506.8 939.3L1505.8 937.2L1504.8 935.3L1503.8 932.7L1502.8 933.8L1501.8 931.5L1500.8 930.8L1499.8 931.6L1498.8 927.2L1497.8 926.0L1496.8 923.5L1495.8 926.4L1494.8 923.3L1493.8 920.5L1492.8 920.8L1491.8 923.3L1490.8 920.7L1489.8 918.9L1488.8 923.5L1487.8 919.4L1486.8 922.6L1485.8 921.3L1484.8 925.0L1483.8 922.1L1482.8 923.8L1481.8 929.5L1480.8 929.8L1479.8 932.4L1478.8 933.6L1477.8 932.9L1476.8 936.2L1475.8 937.0L1474.8 936.9L1473.8 936.6L1472.8 939.9L1471.8 941.1L1470.8 940.2L1469.8 938.6L1468.8 940.4L1467.8 938.7L1466.8 936.8L1465.8 938.2L1464.8 935.9L1463.8 934.1L1462.8 933.8L1461.8 930.4L1460.8 928.9L1459.8 929.9L1458.8 927.6L1457.8 924.5L1456.8 921.2L1455.8 922.5L1454.8 917.9L1453.8 917.4L1452.8 919.4L1451.8 914.2L1450.8 915.3L1449.8 912.4L1448.8 914.0L1447.8 912.4L1446.8 912.0L1445.8 911.8L1444.8 909.0L1443.8 909.3L1442.8 904.2L1441.8 907.0L1440.8 905.4L1439.8 903.5L1438.8 899.4L1437.8 896.4L1436.8 895.4L1435.8 894.0L1434.8 892.3L1433.8 891.9L1432.8 889.4L1431.8 884.4L1430.8 883.5L1429.8 882.3L1428.8 879.2L1427.8 876.6L1426.8 874.9L1425.8 871.5L1424.8 865.3L1423.8 863.5L1422.8 860.9L1421.8 863.9L1420.8 857.7L1419.8 858.4L1418.8 857.5L1417.8 856.2L1416.8 857.3L1415.8 857.5L1414.8 859.1L1413.8 858.2L1412.8 863.2L1411.8 862.9L1410.8 864.8L1409.8 868.7L1408.8 873.3L1407.8 873.5L1406.8 874.9L1405.8 879.8L1404.8 883.3L1403.8 882.3L1402.8 887.0L1401.8 889.6L1400.8 886.8L1399.8 892.3L1398.8 890.1L1397.8 891.3L1396.8 893.0L1395.8 891.5L1394.8 892.8L1393.8 893.7L1392.8 896.9L1391.8 896.1L1390.8 894.6L1389.8 892.6L1388.8 894.9L1387.8 895.1L1386.8 897.0L1385.8 896.1L1384.8 896.6L1383.8 898.2L1382.8 894.0L1381.8 899.1L1380.8 899.9L1379.8 900.9L1378.8 901.6L1377.8 902.0L1376.8 900.5L1375.8 900.9L1374.8 903.2L1373.8 903.9L1372.8 905.9L1371.8 907.8L1370.8 907.1L1369.8 907.9L1368.8 910.1L1367.8 912.9L1366.8 910.2L1365.8 912.1L1364.8 911.7L1363.8 912.6L1362.8 915.4L1361.8 911.8L1360.8 911.9L1359.8 911.3L1358.8 910.9L1357.8 912.3L1356.8 910.0L1355.8 911.6L1354.8 907.8L1353.8 911.9L1352.8 911.8L1351.8 909.4L1350.8 910.9L1349.8 908.3L1348.8 909.1L1347.8 910.0L1346.8 912.9L1345.8 914.7L1344.8 915.9L1343.8 916.2L1342.8 915.1L1341.8 921.3L1340.8 919.7L1339.8 921.0L1338.8 925.3L1337.8 928.6L1336.8 931.2L1335.8 936.6L1334.8 936.5L1333.8 937.8L1332.8 940.6L1331.8 944.3L1330.8 947.9L1329.8 946.4L1328.8 948.9L1327.8 950.4L1326.8 952.5L1325.8 952.8L1324.8 952.1L1323.8 952.1L1322.8 950.8L1321.8 951.6L1320.8 951.2L1319.8 947.2L1318.8 943.9L1317.8 941.7L1316.8 940.9L1315.8 937.9L1314.8 931.6L1313.8 931.7L1312.8 929.0L1311.8 924.7L1310.8 921.8L1309.8 918.9L1308.8 915.2L1307.8 916.4L1306.8 912.5L1305.8 911.9L1304.8 908.3L1303.8 905.6L1302.8 908.3L1301.8 906.1L1300.8 902.1L1299.8 903.0L1298.8 902.0L1297.8 903.8L1296.8 901.8L1295.8 901.8L1294.8 900.8L1293.8 897.9L1292.8 898.1L1291.8 900.4L1290.8 902.1L1289.8 899.9L1288.8 900.2L1287.8 898.7L1286.8 899.4L1285.8 903.5L1284.8 903.4L1283.8 900.4L1282.8 904.6L1281.8 901.1L1280.8 904.3L1279.8 906.8L1278.8 903.4L1277.8 904.6L1276.8 904.9L1275.8 903.7L1274.8 905.9L1273.8 906.3L1272.8 905.5L1271.8 908.9L1270.8 908.2L1269.8 905.3L1268.8 906.0L1267.8 907.6L1266.8 910.2L1265.8 909.7L1264.8 905.9L1263.8 908.3L1262.8 909.0L1261.8 910.0L1260.8 912.8L1259.8 912.3L1258.8 914.0L1257.8 913.3L1256.8 916.5L1255.8 917.1L1254.8 919.8L1253.8 920.9L1252.8 924.9L1251.8 926.3L1250.8 929.4L1249.8 928.4L1248.8 929.6L1247.8 934.1L1246.8 934.5L1245.8 935.2L1244.8 936.1L1243.8 941.2L1242.8 940.1L1241.8 940.6L1240.8 941.6L1239.8 941.8L1238.8 939.0L1237.8 941.0L1236.8 937.0L1235.8 935.7L1234.8 936.3L1233.8 934.7L1232.8 930.7L1231.8 928.2L1230.8 930.1L1229.8 927.9L1228.8 924.4L1227.8 925.5L1226.8 920.0L1225.8 922.9L1224.8 921.6L1223.8 919.1L1222.8 918.1L1221.8 914.3L1220.8 913.2L1219.8 916.4L1218.8 914.3L1217.8 913.5L1216.8 917.7L1215.8 914.4L1214.8 920.3L1213.8 917.1L1212.8 919.1L1211.8 918.5L1210.8 922.0L1209.8 924.0L1208.8 923.2L1207.8 921.8L1206.8 926.5L1205.8 923.6L1204.8 924.6L1203.8 923.5L1202.8 922.9L1201.8 918.6L1200.8 918.2L1199.8 914.9L1198.8 915.4L1197.8 913.0L1196.8 912.2L1195.8 905.6L1194.8 905.2L1193.8 901.1L1192.8 902.9L1191.8 897.0L1190.8 896.6L1189.8 895.2L1188.8 893.4L1187.8 888.2L1186.8 886.2L1185.8 884.5L1184.8 883.7L1183.8 883.6L1182.8 882.4L1181.8 879.4L1180.8 878.9L1179.8 878.9L1178.8 875.0L1177.8 876.1L1176.8 875.6L1175.8 873.7L1174.8 871.3L1173.8 870.8L1172.8 873.4L1171.8 869.1L1170.8 868.6L1169.8 866.9L1168.8 868.4L1167.8 869.0L1166.8 866.8L1165.8 862.9L1164.8 865.5L1163.8 862.8L1162.8 862.5L1161.8 862.1L1160.8 859.2L1159.8 860.4L1158.8 859.7L1157.8 855.1L1156.8 853.8L1155.8 856.4L1154.8 854.1L1153.8 851.8L1152.8 851.6L1151.8 852.8L1150.8 853.0L1149.8 852.6L1148.8 850.4L1147.8 853.6L1146.8 853.2L1145.8 855.2L1144.8 853.8L1143.8 857.3L1142.8 855.7L1141.8 860.0L1140.8 861.8L1139.8 864.3L1138.8 864.4L1137.8 866.2L1136.8 867.3L1135.8 866.7L1134.8 869.8L1133.8 868.3L1132.8 869.0L1131.8 872.2L1130.8 870.1L1129.8 872.5L1128.8 869.1L1127.8 869.2L1126.8 867.4L1125.8 867.7L1124.8 864.9L1123.8 863.8L1122.8 861.3L1121.8 857.9L1120.8 856.7L1119.8 853.5L1118.8 852.0L1117.8 854.2L1116.8 849.8L1115.8 849.2L1114.8 847.9L1113.8 848.0L1112.8 842.7L1111.8 842.1L1110.8 841.8L1109.8 842.8L1108.8 838.7L1107.8 842.2L1106.8 836.7L1105.8 836.4L1104.8 838.3L1103.8 835.5L1102.8 834.5L1101.8 832.9L1100.8 829.5L1099.8 830.0L1098.8 827.9L1097.8 825.9L1096.8 824.4L1095.8 818.5L1094.8 818.7L1093.8 811.6L1092.8 811.7L1091.8 809.6L1090.8 806.5L1089.8 799.9L1088.8 798.2L1087.8 793.7L1086.8 791.5L1085.8 790.8L1084.8 789.4L1083.8 785.4L1082.8 782.3L1081.8 783.5L1080.8 782.8L1079.8 778.6L1078.8 781.8L1077.8 779.3L1076.8 784.0L1075.8 784.5L1074.8 783.8L1073.8 786.1L1072.8 788.0L1071.8 789.6L1070.8 790.2L1069.8 794.9L1068.8 797.2L1067.8 796.2L1066.8 802.4L1065.8 799.6L1064.8 801.3L1063.8 805.2L1062.8 809.1L1061.8 809.1L1060.8 811.2L1059.8 810.7L1058.8 809.5L1057.8 809.2L1056.8 809.3L1055.8 813.4L1054.8 813.3L1053.8 814.2L1052.8 811.1L1051.8 812.2L1050.8 811.9L1049.8 811.2L1048.8 812.2L1047.8 810.7L1046.8 809.3L1045.8 812.0L1044.8 810.5L1043.8 810.0L1042.8 809.2L1041.8 810.2L1040.8 813.1L1039.8 812.2L1038.8 809.8L1037.8 815.0L1036.8 812.7L1035.8 813.2L1034.8 812.9L1033.8 816.2L1032.8 818.8L1031.8 820.6L1030.8 817.8L1029.8 821.9L1028.8 819.4L1027.8 823.4L1026.8 822.7L1025.8 822.2L1024.8 825.6L1023.8 825.7L1022.8 821.7L1021.8 821.1L1020.8 821.0L1019.8 822.6L1018.8 819.5L1017.8 821.1L1016.8 819.2L1015.8 819.8L1014.8 819.0L1013.8 816.5L1012.8 816.8L1011.8 815.6L1010.8 817.0L1009.8 814.6L1008.8 818.8L1007.8 815.7L1006.8 818.9L1005.8 818.3L1004.8 818.9L1003.8 823.9L1002.8 824.1L1001.8 827.3L1000.8 826.0L999.8 828.5L998.8 831.8L997.8 835.6L996.8 836.5L995.8 839.7L994.8 841.1L993.8 842.3L992.8 843.5L991.8 846.3L990.8 850.6L989.8 850.1L988.8 850.4L987.8 849.8L986.8 853.8L985.8 850.2L984.8 852.4L983.8 851.0L982.8 846.1L981.8 846.0L980.8 845.6L979.8 841.9L978.8 840.7L977.8 837.1L976.8 833.6L975.8 831.1L974.8 828.3L973.8 829.3L972.8 826.0L971.8 818.9L970.8 820.3L969.8 814.1L968.8 811.2L967.8 810.4L966.8 809.0L965.8 804.9L964.8 800.0L963.8 799.3L962.8 798.2L961.8 794.7L960.8 795.6L959.8 791.9L958.8 792.0L957.8 791.4L956.8 789.5L955.8 792.9L954.8 789.4L953.8 788.5L952.8 790.2L951.8 789.3L950.8 789.0L949.8 790.5L948.8 791.3L947.8 793.0L946.8 789.5L945.8 790.5L944.8 792.4L943.8 792.9L942.8 792.7L941.8 789.6L940.8 791.9L939.8 789.9L938.8 790.4L937.8 793.3L936.8 791.6L935.8 791.7L934.8 789.7L933.8 790.5L932.8 789.6L931.8 792.3L930.8 788.4L929.8 789.9L928.8 789.5L927.8 789.1L926.8 788.1L925.8 791.6L924.8 788.6L923.8 789.8L922.8 791.9L921.8 793.4L920.8 791.1L919.8 794.2L918.8 793.9L917.8 795.7L916.8 796.9L915.8 798.4L914.8 798.5L913.8 799.2L912.8 805.1L911.8 806.0L910.8 806.8L909.8 805.6L908.8 807.2L907.8 811.2L906.8 812.9L905.8 810.6L904.8 814.4L903.8 811.7L902.8 814.3L901.8 815.5L900.8 814.1L899.8 812.4L898.8 811.0L897.8 811.0L896.8 806.6L895.8 807.3L894.8 806.4L893.8 803.6L892.8 800.7L891.8 799.9L890.8 797.1L889.8 797.0L888.8 793.8L887.8 791.7L886.8 788.4L885.8 788.2L884.8 786.0L883.8 787.3L882.8 785.5L881.8 782.3L880.8 785.1L879.8 784.3L878.8 780.9L877.8 784.1L876.8 780.3L875.8 784.0L874.8 781.5L873.8 782.8L872.8 784.7L871.8 781.8L870.8 781.9L869.8 784.0L868.8 783.6L867.8 781.5L866.8 784.9L865.8 785.3L864.8 784.4L863.8 782.8L862.8 780.2L861.8 781.3L860.8 776.2L859.8 773.4L858.8 772.0L857.8 768.6L856.8 767.6L855.8 762.9L854.8 759.8L853.8 758.2L852.8 757.0L851.8 754.3L850.8 747.4L849.8 746.8L848.8 745.0L847.8 741.2L846.8 739.8L845.8 736.0L844.8 733.1L843.8 732.6L842.8 732.4L841.8 728.0L840.8 726.4L839.8 729.0L838.8 724.7L837.8 726.6L836.8 726.4L835.8 721.2L834.8 722.7L833.8 718.9L832.8 721.3L831.8 717.6L830.8 719.5L829.8 716.9L828.8 714.9L827.8 716.3L826.8 715.0L825.8 711.0L824.8 710.1L823.8 709.6L822.8 706.4L821.8 706.9L820.8 702.5L819.8 705.1L818.8 699.4L817.8 700.2L816.8 698.3L815.8 697.2L814.8 698.1L813.8 694.4L812.8 695.6L811.8 694.7L810.8 695.3L809.8 692.6L808.8 695.1L807.8 695.5L806.8 691.9L805.8 692.8L804.8 698.0L803.8 698.8L802.8 695.3L801.8 696.9L800.8 701.9L799.8 699.4L798.8 703.6L797.8 704.3L796.8 705.7L795.8 701.9L794.8 704.6L793.8 701.8L792.8 705.3L791.8 703.3L790.8 703.1L789.8 700.1L788.8 700.6L787.8 697.8L786.8 694.3L785.8 694.7L784.8 691.4L783.8 690.6L782.8 691.0L781.8 685.8L780.8 685.7L779.8 684.3L778.8 682.8L777.8 680.9L776.8 677.4L775.8 676.9L774.8 678.2L773.8 676.0L772.8 672.3L771.8 671.4L770.8 668.9L769.8 671.3L768.8 666.3L767.8 666.7L766.8 666.2L765.8 664.8L764.8 664.4L763.8 663.3L762.8 662.8L761.8 660.0L760.8 658.0L759.8 653.1L758.8 651.1L757.8 652.1L756.8 650.3L755.8 644.8L754.8 647.1L753.8 644.1L752.8 638.7L751.8 639.3L750.8 633.2L749.8 631.9L748.8 629.6L747.8 625.9L746.8 624.0L745.8 623.3L744.8 619.2L743.8 618.9L742.8 615.2L741.8 614.3L740.8 613.2L739.8 612.6L738.8 614.5L737.8 616.2L736.8 616.6L735.8 622.8L734.8 621.7L733.8 623.1L732.8 628.5L731.8 633.5L730.8 632.8L729.8 638.5L728.8 639.2L727.8 643.6L726.8 645.2L725.8 647.6L724.8 650.4L723.8 653.1L722.8 655.7L721.8 657.6L720.8 659.9L719.8 661.3L718.8 666.5L717.8 668.2L716.8 669.3L715.8 670.8L714.8 671.4L713.8 671.3L712.8 669.5L711.8 671.1L710.8 670.4L709.8 673.7L708.8 672.5L707.8 674.1L706.8 673.4L705.8 677.3L704.8 678.2L703.8 677.9L702.8 681.4L701.8 681.7L700.8 686.5L699.8 685.2L698.8 686.4L697.8 687.1L696.8 690.8L695.8 692.7L694.8 692.6L693.8 696.7L692.8 699.0L691.8 700.2L690.8 700.1L689.8 705.6L688.8 702.7L687.8 705.8L686.8 704.7L685.8 709.1L684.8 706.3L683.8 708.3L682.8 708.3L681.8 709.1L680.8 711.0L679.8 714.0L678.8 713.6L677.8 712.0L676.8 713.5L675.8 711.6L674.8 712.2L673.8 712.5L672.8 714.6L671.8 714.6L670.8 717.6L669.8 716.3L668.8 720.3L667.8 718.4L666.8 722.6L665.8 725.9L664.8 728.4L663.8 732.8L662.8 734.8L661.8 734.6L660.8 737.8L659.8 743.8L658.8 747.3L657.8 751.8L656.8 754.7L655.8 753.1L654.8 760.2L653.8 762.4L652.8 761.8L651.8 766.4L650.8 769.7L649.8 769.9L648.8 770.8L647.8 773.6L646.8 772.9L645.8 773.2L644.8 773.0L643.8 776.5L642.8 773.1L641.8 772.5L640.8 773.0L639.8 770.3L638.8 769.7L637.8 769.4L636.8 767.9L635.8 765.9L634.8 761.7L633.8 761.6L632.8 758.4L631.8 758.5L630.8 756.6L629.8 754.8L628.8 753.8L627.8 749.7L626.8 751.8L625.8 749.9L624.8 747.9L623.8 747.2L622.8 744.3L621.8 743.8L620.8 741.4L619.8 742.3L618.8 742.9L617.8 745.6L616.8 744.2L615.8 744.1L614.8 745.8L613.8 745.7L612.8 745.2L611.8 747.2L610.8 748.6L609.8 748.3L608.8 748.8L607.8 749.4L606.8 751.3L605.8 754.7L604.8 751.6L603.8 754.7L602.8 758.6L601.8 759.4L600.8 758.1L599.8 760.6L598.8 761.6L597.8 761.2L596.8 760.7L595.8 763.3L594.8 763.3L593.8 762.4L592.8 764.6L591.8 766.0L590.8 764.5L589.8 766.4L588.8 769.7L587.8 766.1L586.8 771.1L585.8 772.1L584.8 772.2L583.8 773.8L582.8 774.7L581.8 775.3L580.8 777.7L579.8 780.5L578.8 784.2L577.8 784.8L576.8 791.4L575.8 793.1L574.8 794.8L573.8 796.3L572.8 800.6L571.8 800.9L570.8 806.3L569.8 808.1L568.8 811.6L567.8 814.7L566.8 813.9L565.8 818.2L564.8 819.6L563.8 819.6L562.8 822.3L561.8 820.3L560.8 819.6L559.8 822.1L558.8 819.5L557.8 822.1L556.8 822.3L555.8 818.3L554.8 817.6L553.8 817.4L552.8 818.2L551.8 818.4L550.8 812.2L549.8 813.2L548.8 811.1L547.8 813.6L546.8 813.0L545.8 809.0L544.8 810.0L543.8 810.6L542.8 809.5L541.8 811.5L540.8 810.1L539.8 813.8L538.8 809.7L537.8 810.9L536.8 812.8L535.8 813.2L534.8 819.1L533.8 820.1L532.8 821.6L531.8 822.8L530.8 822.0L529.8 827.5L528.8 826.6L527.8 826.3L526.8 827.3L525.8 829.6L524.8 829.3L523.8 827.7L522.8 827.5L521.8 827.6L520.8 829.6L519.8 827.7L518.8 826.8L517.8 825.6L516.8 821.0L515.8 822.2L514.8 818.3L513.8 814.1L512.8 816.5L511.8 813.1L510.8 813.6L509.8 809.3L508.8 808.0L507.8 804.5L506.8 804.2L505.8 805.5L504.8 804.2L503.8 798.6L502.8 800.5L501.8 801.2L500.8 798.1L499.8 800.1L498.8 796.7L497.8 800.8L496.8 797.3L495.8 798.9L494.8 798.4L493.8 801.7L492.8 801.8L491.8 798.7L490.8 798.4L489.8 798.9L488.8 802.0L487.8 801.5L486.8 799.4L485.8 797.0L484.8 800.7L483.8 798.9L482.8 796.3L481.8 794.9L480.8 794.4L479.8 795.7L478.8 793.8L477.8 790.8L476.8 791.4L475.8 791.7L474.8 794.4L473.8 791.8L472.8 793.3L471.8 794.6L470.8 793.0L469.8 794.8L468.8 795.4L467.8 797.9L466.8 797.6L465.8 799.4L464.8 803.6L463.8 805.9L462.8 807.3L461.8 811.8L460.8 812.7L459.8 814.1L458.8 814.7L457.8 816.0L456.8 818.1L455.8 822.8L454.8 822.1L453.8 825.9L452.8 824.6L451.8 822.2L450.8 822.6L449.8 822.6L448.8 822.1L447.8 825.0L446.8 825.1L445.8 824.2L444.8 822.6L443.8 818.3L442.8 819.7L441.8 819.2L440.8 816.3L439.8 814.9L438.8 817.5L437.8 815.4L436.8 815.4L435.8 811.6L434.8 810.4L433.8 811.4L432.8 812.5L431.8 809.6L430.8 811.4L429.8 806.6L428.8 806.4L427.8 811.0L426.8 807.4L425.8 806.6L424.8 809.6L423.8 805.6L422.8 804.2L421.8 803.6L420.8 802.8L419.8 802.5L418.8 802.6L417.8 797.4L416.8 796.4L415.8 794.3L414.8 792.3L413.8 789.7L412.8 786.6L411.8 786.9L410.8 785.4L409.8 781.3L408.8 778.4L407.8 777.4L406.8 773.3L405.8 771.0L404.8 773.3L403.8 773.3L402.8 771.6L401.8 770.7L400.8 771.4L399.8 773.3L398.8 770.6L397.8 773.8L396.8 776.8L395.8 776.5L394.8 776.5L393.8 781.2L392.8 784.8L391.8 788.0L390.8 791.7L389.8 795.2L388.8 795.8L387.8 800.2L386.8 802.1L385.8 803.4L384.8 804.9L383.8 808.9L382.8 809.3L381.8 812.9L380.8 811.5L379.8 817.0L378.8 816.9L377.8 817.2L376.8 819.1L375.8 819.5L374.8 822.3L373.8 823.1L372.8 822.0L371.8 824.2L370.8 823.9L369.8 823.7L368.8 824.8L367.8 825.7L366.8 829.4L365.8 827.4L364.8 833.0L363.8 833.6L362.8 832.4L361.8 834.3L360.8 838.8L359.8 839.2L358.8 840.3L357.8 842.2L356.8 843.2L355.8 846.2L354.8 846.0L353.8 846.6L352.8 849.3L351.8 853.7L350.8 851.2L349.8 852.5L348.8 855.7L347.8 854.0L346.8 857.1L345.8 857.5L344.8 858.3L343.8 857.4L342.8 855.2L341.8 856.4L340.8 857.0L339.8 856.0L338.8 856.8L337.8 859.7L336.8 856.5L335.8 856.5L334.8 857.7L333.8 859.7L332.8 861.1L331.8 859.9L330.8 861.7L329.8 861.5L328.8 861.4L327.8 864.9L326.8 868.8L325.8 868.1L324.8 872.7L323.8 877.4L322.8 879.1L321.8 878.5L320.8 886.3L319.8 888.8L318.8 887.6L317.8 891.2L316.8 897.7L315.8 899.6L314.8 903.1L313.8 906.5L312.8 905.0L311.8 910.7L310.8 913.4L309.8 912.4L308.8 914.3L307.8 916.3L306.8 916.0L305.8 917.0L304.8 917.5L303.8 913.9L302.8 916.0L301.8 912.9L300.8 912.9L299.8 909.8L298.8 906.8L297.8 904.8L296.8 902.8L295.8 902.8L294.8 899.6L293.8 900.5L292.8 898.2L291.8 896.0L290.8 892.6L289.8 891.8L288.8 887.1L287.8 888.8L286.8 885.7L285.8 884.5L284.8 883.7L283.8 881.4L282.8 880.9L281.8 876.3L280.8 876.8L279.8 879.2L278.8 879.4L277.8 879.8L276.8 874.9L275.8 877.3L274.8 877.4L273.8 877.5L272.8 880.8L271.8 878.7L270.8 882.1L269.8 879.2L268.8 884.0L267.8 881.0L266.8 885.3L265.8 882.3L264.8 883.5L263.8 884.5L262.8 887.0L261.8 886.6L260.8 887.2L259.8 887.5L258.8 887.7L257.8 887.2L256.8 891.0L255.8 890.3L254.8 891.6L253.8 891.9L252.8 892.2L251.8 891.4L250.8 892.6L249.8 894.1L248.8 894.9L247.8 894.2L246.8 894.6L245.8 894.6L244.8 895.9L243.8 896.5L242.8 900.1L241.8 900.7L240.8 903.9L239.8 906.5L238.8 906.6L237.8 911.6L236.8 910.0L235.8 911.6L234.8 917.2L233.8 915.3L232.8 920.9L231.8 923.1L230.8 922.0L229.8 923.5L228.8 928.7L227.8 925.7L226.8 928.7L225.8 932.1L224.8 931.6L223.8 928.3L222.8 932.1L221.8 931.6L220.8 930.5L219.8 928.9L218.8 930.9L217.8 929.7L216.8 928.2L215.8 927.4Z" fill="#add8e6" fill-opacity="0.25" stroke="none"/>
<path d="M215.8 835.1L216.8 834.0L217.8 835.4L218.8 836.8L219.8 838.4L220.8 840.3L221.8 839.9L222.8 839.9L223.8 841.3L224.8 841.1L225.8 838.0L226.8 839.9L227.8 834.6L228.8 834.6L229.8 833.3L230.8 831.9L231.8 830.6L232.8 830.3L233.8 827.6L234.8 824.1L235.8 823.5L236.8 817.5L237.8 815.6L238.8 813.9L239.8 815.7L240.8 809.6L241.8 812.2L242.8 811.3L243.8 807.9L244.8 805.6L245.8 802.7L246.8 806.6L247.8 803.3L248.8 803.3L249.8 804.4L250.8 802.8L251.8 803.6L252.8 798.1L253.8 797.6L254.8 797.3L255.8 800.0L256.8 799.8L257.8 799.0L258.8 797.4L259.8 796.4L260.8 797.0L261.8 797.3L262.8 796.5L263.8 796.1L264.8 793.5L265.8 792.1L266.8 791.9L267.8 790.5L268.8 790.4L269.8 790.0L270.8 790.9L271.8 790.1L272.8 787.0L273.8 788.8L274.8 786.4L275.8 788.6L276.8 788.4L277.8 785.6L278.8 784.4L279.8 786.9L280.8 785.7L281.8 787.6L282.8 785.6L283.8 791.2L284.8 790.7L285.8 790.1L286.8 793.6L287.8 795.8L288.8 798.9L289.8 798.2L290.8 802.7L291.8 805.3L292.8 802.6L293.8 805.0L294.8 809.6L295.8 813.1L296.8 811.8L297.8 818.2L298.8 817.6L299.8 818.7L300.8 820.4L301.8 820.5L302.8 822.9L303.8 823.6L304.8 824.1L305.8 824.6L306.8 825.8L307.8 823.7L308.8 823.8L309.8 821.1L310.8 819.1L311.8 816.6L312.8 817.2L313.8 814.6L314.8 810.9L315.8 805.2L316.8 802.5L317.8 803.9L318.8 800.5L319.8 796.5L320.8 793.0L321.8 791.0L322.8 784.6L323.8 781.5L324.8 782.7L325.8 777.2L326.8 775.6L327.8 773.3L328.8 772.2L329.8 771.9L330.8 770.7L331.8 768.4L332.8 765.9L333.8 769.3L334.8 767.8L335.8 764.8L336.8 764.8L337.8 765.0L338.8 767.7L339.8 764.3L340.8 765.1L341.8 764.8L342.8 768.2L343.8 765.3L344.8 765.6L345.8 766.8L346.8 766.9L347.8 762.7L348.8 765.8L349.8 760.9L350.8 762.6L351.8 759.0L352.8 758.5L353.8 755.3L354.8 754.9L355.8 751.3L356.8 752.1L357.8 752.8L358.8 746.7L359.8 745.0L360.8 743.2L361.8 745.1L362.8 743.0L363.8 739.4L364.8 740.2L365.8 738.0L366.8 737.9L367.8 736.7L368.8 737.1L369.8 736.5L370.8 734.5L371.8 733.3L372.8 729.9L373.8 732.0L374.8 729.0L375.8 730.7L376.8 726.4L377.8 725.7L378.8 726.7L379.8 721.8L380.8 720.2L381.8 718.7L382.8 719.7L383.8 716.7L384.8 712.5L385.8 710.2L386.8 706.9L387.8 709.1L388.8 704.6L389.8 702.3L390.8 698.4L391.8 692.9L392.8 692.6L393.8 688.4L394.8 687.6L395.8 685.8L396.8 681.5L397.8 679.5L398.8 678.4L399.8 678.8L400.8 677.1L401.8 681.0L402.8 678.2L403.8 681.5L404.8 680.6L405.8 679.8L406.8 683.7L407.8 685.4L408.8 687.9L409.8 688.8L410.8 692.2L411.8 695.9L412.8 696.4L413.8 700.0L414.8 700.8L415.8 702.2L416.8 706.7L417.8 708.3L418.8 707.9L419.8 709.2L420.8 710.8L421.8 714.6L422.8 712.5L423.8 716.9L424.8 714.9L425.8 718.1L426.8 714.7L427.8 717.6L428.8 715.3L429.8 715.4L430.8 716.5L431.8 720.0L432.8 716.5L433.8 721.8L434.8 721.9L435.8 720.0L436.8 720.1L437.8 724.6L438.8 723.2L439.8 726.4L440.8 724.4L441.8 728.4L442.8 726.6L443.8 729.3L444.8 728.2L445.8 731.8L446.8 731.5L447.8 731.5L448.8 732.4L449.8 733.7L450.8 734.2L451.8 731.4L452.8 730.2L453.8 730.6L454.8 732.6L455.8 730.1L456.8 726.2L457.8 724.2L458.8 726.9L459.8 721.5L460.8 721.5L461.8 717.7L462.8 714.2L463.8 715.7L464.8 711.9L465.8 709.4L466.8 708.8L467.8 707.7L468.8 704.8L469.8 703.9L470.8 701.4L471.8 704.1L472.8 703.6L473.8 703.2L474.8 700.6L475.8 703.4L476.8 703.4L477.8 702.8L478.8 703.0L479.8 701.9L480.8 705.1L481.8 702.6L482.8 703.2L483.8 707.2L484.8 708.8L485.8 706.5L486.8 708.2L487.8 707.2L488.8 710.3L489.8 710.5L490.8 709.2L491.8 706.7L492.8 708.8L493.8 711.4L494.8 706.1L495.8 706.1L496.8 707.1L497.8 707.4L498.8 707.4L499.8 710.0L500.8 706.1L501.8 708.4L502.8 707.8L503.8 710.5L504.8 710.6L505.8 713.6L506.8 713.4L507.8 715.7L508.8 715.9L509.8 719.7L510.8 718.1L511.8 721.2L512.8 725.7L513.8 725.6L514.8 725.9L515.8 726.6L516.8 730.4L517.8 732.6L518.8 731.6L519.8 733.7L520.8 738.2L521.8 735.7L522.8 739.9L523.8 736.2L524.8 739.1L525.8 739.2L526.8 739.5L527.8 736.1L528.8 732.7L529.8 731.9L530.8 734.9L531.8 728.9L532.8 727.3L533.8 729.0L534.8 725.6L535.8 723.3L536.8 720.7L537.8 720.7L538.8 719.0L539.8 722.4L540.8 721.8L541.8 718.2L542.8 720.2L543.8 718.7L544.8 719.1L545.8 719.7L546.8 718.1L547.8 718.8L548.8 719.0L549.8 724.2L550.8 725.3L551.8 725.4L552.8 723.4L553.8 724.5L554.8 727.2L555.8 727.1L556.8 730.7L557.8 727.9L558.8 727.4L559.8 728.7L560.8 731.8L561.8 729.2L562.8 728.6L563.8 725.4L564.8 727.9L565.8 724.4L566.8 721.8L567.8 721.0L568.8 718.4L569.8 716.2L570.8 716.1L571.8 709.9L572.8 706.7L573.8 704.8L574.8 705.4L575.8 702.3L576.8 697.6L577.8 697.4L578.8 695.0L579.8 692.4L580.8 686.1L581.8 688.2L582.8 684.0L583.8 683.5L584.8 679.1L585.8 677.6L586.8 681.0L587.8 677.2L588.8 678.0L589.8 675.9L590.8 674.1L591.8 671.4L592.8 673.5L593.8 672.3L594.8 670.6L595.8 671.2L596.8 672.5L597.8 670.3L598.8 671.0L599.8 666.5L600.8 666.1L601.8 664.6L602.8 663.0L603.8 662.4L604.8 662.7L605.8 663.3L606.8 659.9L607.8 658.1L608.8 656.3L609.8 657.6L610.8 654.8L611.8 653.6L612.8 654.6L613.8 653.4L614.8 654.8L615.8 651.1L616.8 650.4L617.8 650.9L618.8 650.0L619.8 653.0L620.8 652.2L621.8 652.7L622.8 653.2L623.8 652.6L624.8 655.5L625.8 658.5L626.8 659.6L627.8 656.9L628.8 660.5L629.8 661.8L630.8 664.4L631.8 665.9L632.8 668.2L633.8 671.1L634.8 672.6L635.8 672.8L636.8 678.5L637.8 677.4L638.8 678.6L639.8 683.2L640.8 680.7L641.8 683.1L642.8 681.9L643.8 684.8L644.8 684.8L645.8 683.1L646.8 683.8L647.8 680.2L648.8 682.0L649.8 679.5L650.8 675.5L651.8 674.0L652.8 672.9L653.8 669.7L654.8 668.2L655.8 664.5L656.8 659.6L657.8 659.2L658.8 652.9L659.8 652.1L660.8 649.0L661.8 642.6L662.8 641.4L663.8 639.4L664.8 633.5L665.8 631.8L666.8 630.3L667.8 630.7L668.8 627.1L669.8 624.4L670.8 623.9L671.8 621.6L672.8 623.1L673.8 619.7L674.8 620.2L675.8 622.8L676.8 622.5L677.8 620.1L678.8 620.8L679.8 620.8L680.8 618.0L681.8 618.8L682.8 618.9L683.8 620.4L684.8 617.4L685.8 618.6L686.8 616.6L687.8 613.5L688.8 613.9L689.8 609.5L690.8 608.1L691.8 610.0L692.8 604.8L693.8 607.7L694.8 604.4L695.8 602.9L696.8 599.8L697.8 597.2L698.8 596.2L699.8 595.3L700.8 592.7L701.8 588.9L702.8 590.2L703.8 586.1L704.8 585.6L705.8 584.7L706.8 585.7L707.8 584.7L708.8 581.2L709.8 582.5L710.8 582.5L711.8 580.4L712.8 579.1L713.8 581.0L714.8 579.5L715.8 575.1L716.8 573.9L717.8 573.5L718.8 572.7L719.8 573.1L720.8 569.2L721.8 565.0L722.8 564.7L723.8 560.8L724.8 558.9L725.8 559.8L726.8 553.4L727.8 551.4L728.8 550.7L729.8 547.5L730.8 541.2L731.8 541.9L732.8 534.9L733.8 536.2L734.8 533.8L735.8 528.3L736.8 529.4L737.8 526.5L738.8 522.5L739.8 525.7L740.8 522.7L741.8 524.2L742.8 523.6L743.8 525.7L744.8 525.9L745.8 530.0L746.8 534.4L747.8 534.5L748.8 537.9L749.8 540.6L750.8 546.0L751.8 544.4L752.8 546.4L753.8 552.7L754.8 550.9L755.8 556.8L756.8 559.3L757.8 561.8L758.8 564.0L759.8 565.7L760.8 563.4L761.8 565.1L762.8 567.7L763.8 571.3L764.8 569.5L765.8 575.7L766.8 572.5L767.8 575.7L768.8 578.0L769.8 576.9L770.8 581.4L771.8 580.7L772.8 581.1L773.8 582.2L774.8 585.8L775.8 588.4L776.8 585.4L777.8 588.4L778.8 590.5L779.8 593.0L780.8 594.1L781.8 597.5L782.8 595.6L783.8 600.7L784.8 599.4L785.8 600.3L786.8 606.9L787.8 605.0L788.8 608.5L789.8 609.0L790.8 609.3L791.8 611.7L792.8 612.2L793.8 613.0L794.8 612.2L795.8 611.2L796.8 612.9L797.8 612.5L798.8 609.6L799.8 608.8L800.8 610.3L801.8 607.0L802.8 608.4L803.8 606.2L804.8 603.0L805.8 601.7L806.8 603.9L807.8 603.6L808.8 599.6L809.8 601.5L810.8 603.3L811.8 601.6L812.8 604.5L813.8 604.4L814.8 602.2L815.8 604.3L816.8 609.5L817.8 610.3L818.8 611.5L819.8 612.6L820.8 613.5L821.8 614.6L822.8 614.8L823.8 616.8L824.8 619.8L825.8 623.2L826.8 621.1L827.8 625.4L828.8 626.2L829.8 626.7L830.8 628.6L831.8 628.7L832.8 629.6L833.8 631.5L834.8 629.9L835.8 632.0L836.8 634.4L837.8 633.3L838.8 636.9L839.8 634.1L840.8 637.9L841.8 638.5L842.8 639.4L843.8 644.1L844.8 646.3L845.8 647.4L846.8 650.0L847.8 652.0L848.8 653.9L849.8 658.5L850.8 657.1L851.8 659.9L852.8 662.5L853.8 669.2L854.8 671.5L855.8 670.6L856.8 675.0L857.8 678.5L858.8 683.4L859.8 682.5L860.8 688.1L861.8 688.7L862.8 687.4L863.8 688.3L864.8 693.5L865.8 692.5L866.8 692.8L867.8 690.5L868.8 690.5L869.8 693.5L870.8 694.0L871.8 689.7L872.8 692.9L873.8 689.0L874.8 691.9L875.8 687.9L876.8 692.0L877.8 690.2L878.8 692.3L879.8 691.4L880.8 690.5L881.8 689.7L882.8 695.6L883.8 695.8L884.8 694.0L885.8 695.0L886.8 698.4L887.8 697.9L888.8 700.0L889.8 702.7L890.8 707.5L891.8 708.2L892.8 709.7L893.8 713.5L894.8 711.6L895.8 717.5L896.8 719.5L897.8 719.1L898.8 720.3L899.8 722.4L900.8 722.2L901.8 720.0L902.8 721.2L903.8 721.0L904.8 723.9L905.8 720.7L906.8 719.4L907.8 718.3L908.8 718.6L909.8 716.5L910.8 714.3L911.8 711.4L912.8 710.9L913.8 710.6L914.8 708.7L915.8 708.6L916.8 705.5L917.8 704.4L918.8 703.9L919.8 704.2L920.8 703.5L921.8 700.8L922.8 697.4L923.8 701.7L924.8 698.7L925.8 696.8L926.8 700.6L927.8 698.4L928.8 700.9L929.8 700.5L930.8 700.5L931.8 700.6L932.8 697.1L933.8 698.7L934.8 701.7L935.8 700.7L936.8 699.7L937.8 702.4L938.8 702.5L939.8 701.0L940.8 698.2L941.8 699.2L942.8 701.2L943.8 699.2L944.8 701.8L945.8 701.4L946.8 700.6L947.8 700.9L948.8 697.3L949.8 698.6L950.8 697.1L951.8 696.6L952.8 699.7L953.8 698.1L954.8 701.3L955.8 697.9L956.8 698.3L957.8 701.0L958.8 700.7L959.8 702.3L960.8 702.6L961.8 703.5L962.8 709.0L963.8 710.6L964.8 712.0L965.8 711.5L966.8 715.6L967.8 719.5L968.8 720.5L969.8 724.8L970.8 726.0L971.8 727.8L972.8 732.2L973.8 737.9L974.8 737.4L975.8 740.2L976.8 744.8L977.8 745.9L978.8 746.0L979.8 749.9L980.8 752.1L981.8 754.6L982.8 757.3L983.8 758.5L984.8 759.1L985.8 757.7L986.8 762.6L987.8 758.9L988.8 760.5L989.8 758.4L990.8 757.0L991.8 755.9L992.8 754.6L993.8 751.3L994.8 748.9L995.8 747.8L996.8 744.5L997.8 741.6L998.8 743.9L999.8 740.1L1000.8 738.6L1001.8 735.2L1002.8 733.4L1003.8 732.5L1004.8 729.3L1005.8 729.6L1006.8 726.8L1007.8 727.5L1008.8 726.0L1009.8 725.4L1010.8 722.5L1011.8 724.3L1012.8 724.6L1013.8 722.9L1014.8 723.9L1015.8 726.0L1016.8 728.6L1017.8 725.7L1018.8 729.8L1019.8 729.3L1020.8 732.4L1021.8 732.6L1022.8 730.1L1023.8 730.1L1024.8 730.8L1025.8 733.4L1026.8 729.6L1027.8 729.9L1028.8 729.0L1029.8 731.4L1030.8 727.8L1031.8 729.9L1032.8 727.7L1033.8 722.8L1034.8 722.9L1035.8 721.7L1036.8 722.2L1037.8 719.1L1038.8 722.9L1039.8 721.7L1040.8 718.8L1041.8 720.6L1042.8 717.8L1043.8 717.1L1044.8 718.2L1045.8 719.6L1046.8 720.9L1047.8 716.7L1048.8 721.4L1049.8 720.0L1050.8 722.7L1051.8 722.1L1052.8 719.1L1053.8 722.6L1054.8 722.3L1055.8 720.1L1056.8 721.7L1057.8 717.9L1058.8 720.9L1059.8 719.2L1060.8 717.7L1061.8 716.4L1062.8 716.7L1063.8 714.4L1064.8 712.4L1065.8 712.9L1066.8 709.8L1067.8 708.4L1068.8 704.7L1069.8 703.8L1070.8 701.6L1071.8 695.3L1072.8 695.5L1073.8 695.1L1074.8 693.4L1075.8 689.8L1076.8 688.0L1077.8 690.8L1078.8 691.1L1079.8 690.6L1080.8 692.3L1081.8 693.5L1082.8 691.9L1083.8 694.7L1084.8 698.6L1085.8 697.2L1086.8 702.1L1087.8 705.3L1088.8 705.0L1089.8 712.7L1090.8 713.1L1091.8 715.4L1092.8 722.2L1093.8 722.4L1094.8 724.8L1095.8 729.7L1096.8 729.8L1097.8 732.2L1098.8 734.7L1099.8 740.4L1100.8 739.9L1101.8 743.7L1102.8 742.9L1103.8 744.1L1104.8 748.0L1105.8 745.8L1106.8 745.3L1107.8 748.5L1108.8 751.5L1109.8 752.6L1110.8 749.8L1111.8 751.9L1112.8 755.8L1113.8 754.2L1114.8 757.8L1115.8 758.0L1116.8 756.7L1117.8 759.2L1118.8 761.4L1119.8 764.0L1120.8 767.3L1121.8 769.0L1122.8 769.9L1123.8 772.2L1124.8 773.9L1125.8 773.4L1126.8 776.3L1127.8 775.0L1128.8 779.0L1129.8 777.3L1130.8 779.0L1131.8 777.5L1132.8 777.3L1133.8 778.2L1134.8 779.4L1135.8 776.9L1136.8 774.2L1137.8 774.3L1138.8 770.0L1139.8 773.3L1140.8 770.9L1141.8 766.5L1142.8 765.6L1143.8 767.0L1144.8 766.0L1145.8 762.2L1146.8 761.5L1147.8 762.0L1148.8 760.7L1149.8 761.1L1150.8 760.0L1151.8 759.7L1152.8 762.0L1153.8 761.7L1154.8 762.0L1155.8 760.8L1156.8 766.5L1157.8 764.1L1158.8 767.6L1159.8 766.7L1160.8 767.7L1161.8 768.8L1162.8 772.4L1163.8 772.2L1164.8 770.9L1165.8 773.5L1166.8 775.7L1167.8 774.9L1168.8 775.5L1169.8 777.2L1170.8 776.7L1171.8 781.4L1172.8 780.2L1173.8 778.4L1174.8 779.2L1175.8 782.6L1176.8 781.8L1177.8 784.9L1178.8 785.0L1179.8 786.8L1180.8 787.6L1181.8 790.0L1182.8 788.5L1183.8 791.7L1184.8 790.5L1185.8 793.5L1186.8 795.6L1187.8 799.1L1188.8 803.2L1189.8 801.7L1190.8 806.4L1191.8 805.4L1192.8 809.5L1193.8 813.8L1194.8 815.4L1195.8 818.0L1196.8 821.0L1197.8 819.1L1198.8 822.7L1199.8 824.7L1200.8 828.9L1201.8 827.2L1202.8 829.3L1203.8 830.9L1204.8 833.9L1205.8 832.5L1206.8 833.2L1207.8 834.6L1208.8 830.6L1209.8 830.4L1210.8 830.6L1211.8 828.8L1212.8 825.9L1213.8 828.7L1214.8 825.3L1215.8 825.5L1216.8 825.8L1217.8 826.7L1218.8 822.6L1219.8 823.3L1220.8 824.9L1221.8 823.5L1222.8 823.8L1223.8 827.8L1224.8 827.5L1225.8 830.8L1226.8 829.0L1227.8 832.4L1228.8 833.7L1229.8 834.9L1230.8 838.8L1231.8 838.1L1232.8 840.5L1233.8 840.8L1234.8 841.1L1235.8 844.5L1236.8 847.6L1237.8 849.0L1238.8 848.1L1239.8 847.9L1240.8 848.2L1241.8 847.9L1242.8 847.7L1243.8 849.6L1244.8 848.6L1245.8 847.2L1246.8 844.6L1247.8 841.9L1248.8 842.8L1249.8 839.5L1250.8 836.1L1251.8 832.6L1252.8 830.4L1253.8 831.9L1254.8 830.6L1255.8 826.7L1256.8 825.3L1257.8 823.5L1258.8 823.3L1259.8 820.9L1260.8 822.4L1261.8 818.4L1262.8 817.1L1263.8 816.2L1264.8 816.4L1265.8 815.7L1266.8 813.8L1267.8 818.7L1268.8 814.9L1269.8 817.9L1270.8 814.5L1271.8 814.0L1272.8 816.4L1273.8 817.3L1274.8 817.1L1275.8 812.9L1276.8 812.1L1277.8 816.2L1278.8 813.3L1279.8 813.6L1280.8 811.6L1281.8 809.9L1282.8 810.5L1283.8 813.1L1284.8 810.6L1285.8 809.5L1286.8 812.2L1287.8 810.0L1288.8 810.7L1289.8 811.2L1290.8 806.4L1291.8 806.9L1292.8 811.2L1293.8 808.6L1294.8 810.6L1295.8 808.4L1296.8 810.7L1297.8 809.2L1298.8 812.5L1299.8 812.4L1300.8 812.2L1301.8 812.4L1302.8 816.2L1303.8 819.1L1304.8 819.4L1305.8 819.1L1306.8 821.1L1307.8 825.7L1308.8 824.7L1309.8 825.8L1310.8 828.5L1311.8 835.1L1312.8 837.9L1313.8 838.7L1314.8 842.3L1315.8 843.0L1316.8 849.4L1317.8 848.5L1318.8 855.4L1319.8 856.3L1320.8 858.8L1321.8 857.9L1322.8 860.4L1323.8 863.7L1324.8 861.3L1325.8 862.1L1326.8 861.3L1327.8 861.4L1328.8 857.2L1329.8 856.1L1330.8 856.3L1331.8 854.6L1332.8 852.9L1333.8 847.1L1334.8 845.6L1335.8 840.8L1336.8 841.1L1337.8 837.9L1338.8 832.6L1339.8 830.5L1340.8 830.2L1341.8 827.8L1342.8 825.3L1343.8 824.8L1344.8 821.8L1345.8 822.5L1346.8 821.4L1347.8 820.5L1348.8 818.8L1349.8 820.7L1350.8 815.4L1351.8 817.0L1352.8 817.0L1353.8 819.8L1354.8 816.2L1355.8 819.1L1356.8 819.2L1357.8 820.0L1358.8 821.8L1359.8 823.0L1360.8 820.1L1361.8 820.3L1362.8 821.7L1363.8 822.5L1364.8 824.0L1365.8 821.0L1366.8 822.0L1367.8 822.5L1368.8 819.2L1369.8 818.3L1370.8 819.5L1371.8 814.3L1372.8 817.2L1373.8 815.2L1374.8 814.2L1375.8 809.1L1376.8 808.5L1377.8 808.1L1378.8 809.9L1379.8 807.9L1380.8 805.5L1381.8 804.6L1382.8 805.4L1383.8 802.0L1384.8 804.8L1385.8 805.9L1386.8 804.3L1387.8 802.2L1388.8 803.2L1389.8 805.9L1390.8 802.5L1391.8 805.5L1392.8 802.5L1393.8 805.6L1394.8 804.3L1395.8 801.8L1396.8 800.5L1397.8 799.4L1398.8 798.5L1399.8 798.4L1400.8 795.1L1401.8 793.7L1402.8 791.6L1403.8 793.5L1404.8 791.4L1405.8 787.9L1406.8 785.0L1407.8 785.0L1408.8 778.3L1409.8 777.1L1410.8 773.9L1411.8 775.0L1412.8 772.2L1413.8 767.2L1414.8 770.3L1415.8 767.6L1416.8 766.2L1417.8 768.3L1418.8 764.6L1419.8 768.5L1420.8 769.8L1421.8 768.5L1422.8 770.7L1423.8 772.2L1424.8 776.6L1425.8 779.8L1426.8 783.8L1427.8 784.9L1428.8 783.9L1429.8 789.6L1430.8 790.8L1431.8 792.7L1432.8 798.5L1433.8 800.5L1434.8 798.6L1435.8 804.0L1436.8 804.9L1437.8 805.3L1438.8 811.5L1439.8 811.6L1440.8 810.2L1441.8 814.7L1442.8 817.0L1443.8 816.9L1444.8 815.1L1445.8 819.3L1446.8 819.1L1447.8 822.7L1448.8 819.4L1449.8 822.5L1450.8 823.8L1451.8 823.4L1452.8 826.8L1453.8 825.0L1454.8 827.5L1455.8 829.3L1456.8 829.8L1457.8 832.2L1458.8 833.7L1459.8 836.0L1460.8 839.7L1461.8 842.1L1462.8 840.2L1463.8 842.9L1464.8 844.0L1465.8 847.5L1466.8 847.9L1467.8 847.9L1468.8 848.3L1469.8 846.1L1470.8 850.0L1471.8 847.6L1472.8 847.4L1473.8 845.9L1474.8 847.1L1475.8 846.2L1476.8 844.1L1477.8 843.1L1478.8 840.4L1479.8 839.3L1480.8 837.4L1481.8 835.6L1482.8 836.1L1483.8 830.1L1484.8 832.1L1485.8 830.3L1486.8 827.2L1487.8 830.9L1488.8 828.2L1489.8 827.0L1490.8 827.3L1491.8 827.6L1492.8 827.3L1493.8 826.9L1494.8 829.3L1495.8 829.8L1496.8 833.4L1497.8 829.9L1498.8 831.5L1499.8 833.5L1500.8 836.3L1501.8 838.5L1502.8 838.0L1503.8 841.3L1504.8 840.1L1505.8 839.6L1506.8 843.4L1507.8 841.8L1508.8 841.6L1509.8 841.7L1510.8 844.0L1511.8 845.1L1512.8 847.3L1513.8 848.0L1514.8 846.5L1515.8 844.6L1516.8 846.7L1517.8 846.3L1518.8 846.6L1519.8 847.1L1520.8 849.0L1521.8 853.5L1522.8 852.0L1523.8 854.3L1524.8 853.9L1525.8 858.6L1526.8 863.6L1527.8 861.8L1528.8 867.1L1529.8 871.0L1530.8 871.9L1531.8 873.2L1532.8 879.3L1533.8 882.7L1534.8 882.4L1535.8 886.7L1536.8 889.9L1537.8 894.0L1538.8 892.7L1539.8 894.3L1540.8 894.6L1541.8 898.5L1542.8 900.8L1543.8 897.6L1544.8 899.4L1545.8 902.4L1546.8 897.6L1547.8 897.7L1548.8 898.9L1549.8 894.1L1550.8 896.4L1551.8 895.0L1552.8 891.8L1553.8 890.4L1554.8 890.2L1555.8 892.0L1556.8 891.9L1557.8 892.0L1558.8 889.3L1559.8 889.2L1560.8 891.6L1561.8 888.2L1562.8 892.7L1563.8 892.3L1564.8 893.5L1565.8 897.2L1566.8 895.0L1567.8 898.6L1568.8 902.0L1569.8 899.8L1570.8 903.9L1571.8 904.9L1572.8 908.1L1573.8 908.8L1574.8 914.7L1575.8 911.9L1576.8 916.9L1577.8 914.6L1578.8 916.7L1579.8 914.1L1580.8 916.7L1581.8 914.3L1582.8 911.7L1583.8 910.2L1584.8 907.6L1585.8 907.1L1586.8 906.4L1587.8 903.7L1588.8 903.0L1589.8 896.6L1590.8 897.1L1591.8 893.4L1592.8 893.5L1593.8 887.1L1594.8 885.5L1595.8 887.3L1596.8 881.4L1597.8 879.9L1598.8 877.9L1599.8 876.6L1600.8 876.9L1601.8 873.0L1602.8 874.4L1603.8 874.4L1604.8 874.0L1605.8 872.7L1606.8 869.4L1607.8 868.3L1608.8 870.0L1609.8 869.5L1610.8 871.5L1611.8 867.5L1612.8 869.2L1613.8 866.8L1614.8 869.9L1615.8 865.7L1616.8 868.6L1617.8 864.1L1618.8 867.0L1619.8 865.6L1620.8 866.3L1621.8 863.8L1622.8 863.5L1623.8 865.1L1624.8 862.0L1625.8 859.7L1626.8 859.2L1627.8 860.8L1628.8 858.1L1629.8 859.1L1630.8 860.2L1631.8 861.5L1632.8 856.7L1633.8 860.4L1634.8 861.1L1635.8 859.5L1636.8 859.7L1637.8 863.7L1638.8 864.1L1639.8 863.2L1640.8 867.5L1641.8 869.8L1642.8 870.0L1643.8 872.8L1644.8 879.1L1645.8 880.6L1646.8 882.8L1647.8 885.1L1648.8 891.7L1649.8 891.7L1650.8 898.2L1651.8 901.8L1652.8 904.0L1653.8 909.5L1654.8 911.1L1655.8 912.8L1656.8 915.3L1656.8 922.9L1655.8 922.7L1654.8 922.0L1653.8 915.4L1652.8 912.9L1651.8 913.0L1650.8 911.1L1649.8 903.3L1648.8 904.2L1647.8 897.5L1646.8 897.1L1645.8 892.5L1644.8 893.8L1643.8 891.3L1642.8 885.7L1641.8 884.9L1640.8 885.4L1639.8 883.3L1638.8 881.1L1637.8 879.5L1636.8 876.6L1635.8 879.7L1634.8 878.6L1633.8 876.6L1632.8 876.8L1631.8 875.6L1630.8 876.1L1629.8 876.4L1628.8 880.6L1627.8 881.4L1626.8 878.6L1625.8 881.2L1624.8 880.3L1623.8 878.6L1622.8 883.7L1621.8 881.5L1620.8 884.4L1619.8 884.8L1618.8 885.2L1617.8 886.2L1616.8 886.0L1615.8 887.2L1614.8 886.5L1613.8 884.0L1612.8 887.6L1611.8 884.3L1610.8 886.3L1609.8 885.2L1608.8 886.6L1607.8 888.2L1606.8 887.6L1605.8 890.2L1604.8 890.3L1603.8 892.0L1602.8 887.7L1601.8 893.2L1600.8 894.1L1599.8 891.8L1598.8 892.6L1597.8 894.0L1596.8 899.2L1595.8 898.7L1594.8 902.2L1593.8 902.3L1592.8 906.2L1591.8 903.3L1590.8 907.8L1589.8 908.3L1588.8 909.4L1587.8 912.5L1586.8 914.3L1585.8 916.7L1584.8 919.1L1583.8 922.0L1582.8 920.1L1581.8 923.4L1580.8 921.4L1579.8 925.8L1578.8 924.9L1577.8 923.8L1576.8 925.0L1575.8 922.9L1574.8 922.2L1573.8 919.8L1572.8 916.6L1571.8 916.8L1570.8 913.5L1569.8 913.7L1568.8 913.1L1567.8 910.4L1566.8 907.1L1565.8 906.7L1564.8 907.9L1563.8 903.6L1562.8 905.5L1561.8 900.7L1560.8 902.1L1559.8 903.3L1558.8 900.3L1557.8 902.7L1556.8 900.1L1555.8 903.6L1554.8 903.8L1553.8 902.9L1552.8 903.5L1551.8 907.0L1550.8 904.6L1549.8 906.0L1548.8 910.5L1547.8 909.5L1546.8 910.5L1545.8 912.6L1544.8 910.8L1543.8 909.5L1542.8 911.8L1541.8 909.2L1540.8 909.8L1539.8 909.1L1538.8 907.1L1537.8 906.3L1536.8 901.3L1535.8 900.2L1534.8 895.7L1533.8 893.4L1532.8 891.7L1531.8 892.4L1530.8 891.2L1529.8 886.1L1528.8 884.7L1527.8 880.1L1526.8 880.3L1525.8 880.0L1524.8 876.2L1523.8 875.5L1522.8 874.8L1521.8 871.1L1520.8 870.6L1519.8 870.3L1518.8 866.1L1517.8 865.7L1516.8 865.2L1515.8 865.3L1514.8 864.1L1513.8 865.9L1512.8 866.3L1511.8 862.0L1510.8 865.7L1509.8 864.8L1508.8 865.1L1507.8 863.0L1506.8 863.3L1505.8 862.0L1504.8 859.8L1503.8 856.4L1502.8 855.1L1501.8 857.2L1500.8 855.9L1499.8 854.3L1498.8 850.1L1497.8 850.8L1496.8 851.8L1495.8 850.7L1494.8 851.0L1493.8 849.3L1492.8 848.8L1491.8 848.1L1490.8 846.0L1489.8 845.9L1488.8 848.9L1487.8 846.0L1486.8 850.1L1485.8 848.4L1484.8 851.7L1483.8 851.7L1482.8 853.4L1481.8 856.4L1480.8 855.6L1479.8 859.1L1478.8 859.1L1477.8 862.1L1476.8 859.6L1475.8 866.0L1474.8 863.8L1473.8 863.9L1472.8 868.1L1471.8 867.8L1470.8 868.6L1469.8 868.5L1468.8 865.3L1467.8 866.9L1466.8 864.3L1465.8 863.1L1464.8 860.3L1463.8 859.4L1462.8 858.9L1461.8 856.0L1460.8 857.6L1459.8 853.5L1458.8 852.4L1457.8 850.4L1456.8 848.5L1455.8 851.5L1454.8 844.9L1453.8 846.7L1452.8 846.7L1451.8 842.5L1450.8 843.7L1449.8 839.5L1448.8 841.3L1447.8 837.2L1446.8 838.4L1445.8 839.1L1444.8 835.1L1443.8 834.2L1442.8 835.4L1441.8 831.3L1440.8 832.6L1439.8 827.5L1438.8 824.7L1437.8 825.5L1436.8 821.6L1435.8 819.0L1434.8 816.5L1433.8 815.9L1432.8 816.0L1431.8 810.0L1430.8 810.6L1429.8 808.0L1428.8 803.0L1427.8 801.1L1426.8 799.7L1425.8 795.7L1424.8 792.5L1423.8 793.3L1422.8 789.6L1421.8 786.5L1420.8 786.4L1419.8 787.4L1418.8 786.9L1417.8 783.7L1416.8 786.4L1415.8 784.1L1414.8 788.1L1413.8 785.9L1412.8 790.5L1411.8 791.0L1410.8 793.5L1409.8 796.9L1408.8 797.0L1407.8 800.5L1406.8 802.3L1405.8 803.7L1404.8 809.9L1403.8 810.9L1402.8 812.2L1401.8 814.3L1400.8 816.0L1399.8 819.5L1398.8 818.5L1397.8 818.6L1396.8 819.9L1395.8 819.4L1394.8 819.2L1393.8 821.3L1392.8 822.0L1391.8 821.8L1390.8 820.7L1389.8 821.1L1388.8 820.5L1387.8 821.4L1386.8 824.5L1385.8 823.9L1384.8 821.9L1383.8 821.8L1382.8 821.2L1381.8 823.3L1380.8 826.5L1379.8 824.1L1378.8 828.4L1377.8 825.2L1376.8 829.2L1375.8 828.8L1374.8 831.4L1373.8 832.9L1372.8 834.6L1371.8 835.8L1370.8 835.1L1369.8 837.0L1368.8 837.2L1367.8 837.8L1366.8 838.4L1365.8 841.2L1364.8 840.4L1363.8 838.0L1362.8 838.5L1361.8 842.3L1360.8 841.0L1359.8 842.1L1358.8 838.4L1357.8 838.3L1356.8 837.2L1355.8 838.5L1354.8 837.1L1353.8 834.7L1352.8 838.6L1351.8 835.2L1350.8 835.0L1349.8 834.3L1348.8 836.2L1347.8 836.3L1346.8 838.1L1345.8 839.5L1344.8 840.6L1343.8 843.4L1342.8 842.9L1341.8 844.9L1340.8 848.6L1339.8 852.6L1338.8 850.8L1337.8 853.9L1336.8 857.0L1335.8 861.7L1334.8 866.0L1333.8 864.3L1332.8 867.7L1331.8 869.8L1330.8 873.6L1329.8 877.7L1328.8 875.4L1327.8 880.2L1326.8 878.2L1325.8 880.9L1324.8 881.5L1323.8 880.4L1322.8 881.2L1321.8 876.6L1320.8 876.9L1319.8 873.9L1318.8 874.3L1317.8 870.9L1316.8 866.4L1315.8 860.7L1314.8 860.7L1313.8 856.4L1312.8 856.0L1311.8 852.9L1310.8 850.8L1309.8 847.9L1308.8 843.2L1307.8 841.2L1306.8 840.9L1305.8 838.6L1304.8 837.5L1303.8 833.2L1302.8 834.2L1301.8 833.2L1300.8 829.7L1299.8 829.2L1298.8 827.8L1297.8 826.7L1296.8 830.4L1295.8 825.5L1294.8 827.8L1293.8 824.6L1292.8 829.5L1291.8 829.4L1290.8 829.0L1289.8 825.9L1288.8 825.6L1287.8 826.7L1286.8 826.1L1285.8 828.4L1284.8 829.8L1283.8 830.3L1282.8 832.4L1281.8 829.9L1280.8 829.8L1279.8 833.3L1278.8 831.3L1277.8 834.0L1276.8 832.9L1275.8 833.5L1274.8 832.7L1273.8 835.7L1272.8 835.9L1271.8 834.6L1270.8 834.0L1269.8 833.4L1268.8 833.5L1267.8 834.0L1266.8 832.3L1265.8 835.3L1264.8 836.2L1263.8 838.3L1262.8 836.3L1261.8 837.7L1260.8 836.2L1259.8 838.2L1258.8 840.7L1257.8 843.2L1256.8 845.3L1255.8 846.3L1254.8 849.5L1253.8 846.6L1252.8 851.4L1251.8 854.0L1250.8 853.4L1249.8 858.6L1248.8 857.2L1247.8 863.0L1246.8 864.8L1245.8 863.0L1244.8 865.0L1243.8 865.3L1242.8 864.9L1241.8 866.9L1240.8 869.1L1239.8 864.8L1238.8 864.4L1237.8 867.7L1236.8 862.5L1235.8 860.5L1234.8 860.8L1233.8 858.5L1232.8 860.2L1231.8 858.1L1230.8 857.1L1229.8 853.3L1228.8 851.9L1227.8 848.4L1226.8 847.1L1225.8 848.1L1224.8 845.1L1223.8 847.5L1222.8 845.3L1221.8 844.3L1220.8 841.4L1219.8 843.0L1218.8 841.3L1217.8 843.0L1216.8 843.3L1215.8 842.2L1214.8 843.3L1213.8 844.3L1212.8 847.7L1211.8 845.2L1210.8 847.6L1209.8 849.7L1208.8 851.1L1207.8 851.0L1206.8 853.7L1205.8 850.6L1204.8 852.5L1203.8 848.6L1202.8 847.1L1201.8 845.2L1200.8 847.4L1199.8 841.1L1198.8 843.0L1197.8 839.1L1196.8 839.7L1195.8 836.6L1194.8 833.8L1193.8 828.0L1192.8 829.7L1191.8 827.2L1190.8 825.8L1189.8 819.3L1188.8 821.5L1187.8 817.1L1186.8 814.0L1185.8 812.8L1184.8 808.8L1183.8 812.3L1182.8 807.9L1181.8 804.6L1180.8 803.6L1179.8 802.0L1178.8 801.8L1177.8 801.1L1176.8 803.5L1175.8 802.7L1174.8 802.0L1173.8 798.9L1172.8 798.9L1171.8 798.9L1170.8 798.0L1169.8 796.5L1168.8 793.7L1167.8 796.5L1166.8 795.1L1165.8 790.6L1164.8 791.0L1163.8 790.0L1162.8 789.4L1161.8 787.6L1160.8 788.3L1159.8 788.1L1158.8 782.7L1157.8 786.0L1156.8 784.8L1155.8 782.8L1154.8 778.3L1153.8 781.0L1152.8 777.5L1151.8 780.1L1150.8 780.7L1149.8 779.8L1148.8 777.7L1147.8 778.4L1146.8 778.7L1145.8 783.4L1144.8 784.9L1143.8 785.6L1142.8 783.6L1141.8 784.5L1140.8 785.7L1139.8 790.6L1138.8 789.7L1137.8 790.2L1136.8 794.3L1135.8 796.5L1134.8 794.7L1133.8 795.2L1132.8 795.8L1131.8 794.8L1130.8 799.3L1129.8 798.8L1128.8 796.5L1127.8 793.6L1126.8 794.3L1125.8 792.4L1124.8 789.9L1123.8 789.8L1122.8 789.0L1121.8 787.7L1120.8 784.7L1119.8 783.1L1118.8 781.5L1117.8 778.7L1116.8 779.3L1115.8 775.0L1114.8 774.4L1113.8 775.1L1112.8 769.7L1111.8 769.8L1110.8 770.1L1109.8 771.3L1108.8 767.4L1107.8 764.5L1106.8 768.1L1105.8 767.2L1104.8 763.1L1103.8 761.1L1102.8 759.8L1101.8 760.4L1100.8 757.0L1099.8 756.4L1098.8 754.2L1097.8 752.8L1096.8 747.6L1095.8 744.7L1094.8 746.2L1093.8 741.9L1092.8 737.9L1091.8 733.9L1090.8 731.0L1089.8 728.6L1088.8 723.7L1087.8 723.0L1086.8 718.7L1085.8 717.6L1084.8 717.3L1083.8 715.4L1082.8 711.5L1081.8 711.5L1080.8 710.2L1079.8 709.5L1078.8 706.7L1077.8 705.6L1076.8 708.4L1075.8 711.5L1074.8 708.8L1073.8 714.5L1072.8 712.5L1071.8 718.5L1070.8 720.0L1069.8 720.6L1068.8 725.0L1067.8 723.5L1066.8 726.1L1065.8 730.7L1064.8 729.4L1063.8 732.3L1062.8 732.0L1061.8 735.2L1060.8 735.5L1059.8 735.6L1058.8 737.0L1057.8 739.8L1056.8 737.3L1055.8 738.4L1054.8 738.4L1053.8 740.1L1052.8 739.5L1051.8 737.0L1050.8 736.3L1049.8 739.2L1048.8 735.6L1047.8 739.7L1046.8 738.8L1045.8 737.6L1044.8 736.3L1043.8 738.3L1042.8 736.3L1041.8 738.3L1040.8 735.3L1039.8 739.0L1038.8 737.6L1037.8 740.0L1036.8 738.3L1035.8 741.8L1034.8 741.4L1033.8 745.6L1032.8 746.2L1031.8 748.0L1030.8 747.9L1029.8 750.2L1028.8 746.1L1027.8 750.0L1026.8 749.8L1025.8 751.6L1024.8 751.7L1023.8 752.5L1022.8 752.3L1021.8 751.0L1020.8 749.4L1019.8 747.2L1018.8 749.2L1017.8 745.6L1016.8 745.8L1015.8 742.7L1014.8 742.9L1013.8 742.5L1012.8 744.4L1011.8 744.8L1010.8 742.7L1009.8 742.0L1008.8 741.7L1007.8 745.2L1006.8 746.7L1005.8 746.4L1004.8 746.3L1003.8 749.7L1002.8 753.2L1001.8 754.9L1000.8 754.1L999.8 759.6L998.8 760.1L997.8 762.0L996.8 763.5L995.8 765.4L994.8 770.5L993.8 770.9L992.8 773.5L991.8 774.9L990.8 776.7L989.8 774.6L988.8 776.5L987.8 779.3L986.8 778.2L985.8 776.1L984.8 776.6L983.8 775.3L982.8 774.5L981.8 770.8L980.8 773.5L979.8 770.8L978.8 767.3L977.8 764.9L976.8 760.3L975.8 759.3L974.8 757.9L973.8 753.5L972.8 749.5L971.8 746.6L970.8 743.8L969.8 742.2L968.8 737.1L967.8 735.5L966.8 734.6L965.8 729.5L964.8 727.2L963.8 726.2L962.8 722.9L961.8 726.2L960.8 724.0L959.8 723.0L958.8 718.5L957.8 719.2L956.8 718.1L955.8 716.8L954.8 719.2L953.8 716.4L952.8 719.5L951.8 719.1L950.8 717.3L949.8 718.0L948.8 719.0L947.8 717.0L946.8 716.6L945.8 715.3L944.8 715.2L943.8 715.8L942.8 720.7L941.8 720.8L940.8 720.2L939.8 717.0L938.8 718.9L937.8 717.0L936.8 718.6L935.8 716.4L934.8 716.4L933.8 719.7L932.8 716.8L931.8 716.2L930.8 715.7L929.8 716.1L928.8 717.2L927.8 715.6L926.8 714.8L925.8 715.4L924.8 719.5L923.8 719.6L922.8 715.9L921.8 716.5L920.8 716.9L919.8 718.4L918.8 721.3L917.8 720.9L916.8 724.6L915.8 723.8L914.8 724.4L913.8 725.7L912.8 727.0L911.8 733.7L910.8 733.3L909.8 733.2L908.8 737.9L907.8 738.9L906.8 738.7L905.8 737.8L904.8 742.0L903.8 740.5L902.8 743.1L901.8 741.7L900.8 738.9L899.8 741.7L898.8 737.7L897.8 736.2L896.8 732.7L895.8 734.6L894.8 733.2L893.8 729.5L892.8 726.0L891.8 725.6L890.8 725.9L889.8 722.4L888.8 718.4L887.8 718.2L886.8 717.5L885.8 713.1L884.8 714.6L883.8 713.0L882.8 710.2L881.8 708.2L880.8 707.4L879.8 707.2L878.8 709.9L877.8 710.3L876.8 711.0L875.8 706.5L874.8 707.5L873.8 708.8L872.8 711.2L871.8 712.3L870.8 712.3L869.8 712.9L868.8 709.4L867.8 710.5L866.8 712.7L865.8 712.3L864.8 707.8L863.8 707.3L862.8 709.6L861.8 704.0L860.8 705.1L859.8 702.1L858.8 697.6L857.8 698.8L856.8 695.3L855.8 690.8L854.8 689.9L853.8 687.9L852.8 680.8L851.8 678.2L850.8 679.4L849.8 673.3L848.8 673.2L847.8 669.3L846.8 664.5L845.8 662.0L844.8 661.7L843.8 661.9L842.8 660.7L841.8 657.1L840.8 657.5L839.8 655.9L838.8 653.5L837.8 652.0L836.8 649.9L835.8 650.7L834.8 649.8L833.8 650.1L832.8 649.7L831.8 649.1L830.8 645.3L829.8 644.6L828.8 644.1L827.8 640.4L826.8 642.6L825.8 639.1L824.8 637.6L823.8 637.8L822.8 635.8L821.8 631.0L820.8 630.4L819.8 631.2L818.8 630.0L817.8 628.6L816.8 625.7L815.8 624.9L814.8 621.6L813.8 621.4L812.8 621.2L811.8 622.8L810.8 621.2L809.8 618.9L808.8 621.2L807.8 620.0L806.8 622.5L805.8 620.7L804.8 623.1L803.8 625.2L802.8 625.5L801.8 626.1L800.8 625.6L799.8 630.8L798.8 627.0L797.8 628.7L796.8 628.6L795.8 628.6L794.8 630.6L793.8 630.1L792.8 630.4L791.8 628.5L790.8 626.2L789.8 624.7L788.8 626.7L787.8 624.1L786.8 621.1L785.8 621.5L784.8 618.0L783.8 617.8L782.8 615.0L781.8 616.0L780.8 612.4L779.8 611.5L778.8 611.3L777.8 606.6L776.8 605.4L775.8 604.8L774.8 600.6L773.8 602.9L772.8 601.2L771.8 598.5L770.8 596.2L769.8 597.9L768.8 596.0L767.8 595.7L766.8 591.2L765.8 589.9L764.8 591.7L763.8 590.0L762.8 587.5L761.8 584.3L760.8 582.9L759.8 580.1L758.8 580.5L757.8 580.7L756.8 575.7L755.8 573.2L754.8 573.5L753.8 569.4L752.8 568.4L751.8 562.3L750.8 562.8L749.8 559.0L748.8 553.7L747.8 552.8L746.8 550.2L745.8 546.7L744.8 547.6L743.8 544.3L742.8 542.5L741.8 540.2L740.8 541.1L739.8 542.4L738.8 543.2L737.8 543.4L736.8 546.5L735.8 546.0L734.8 548.5L733.8 552.0L732.8 557.3L731.8 556.2L730.8 558.8L729.8 566.3L728.8 567.2L727.8 570.4L726.8 572.3L725.8 578.2L724.8 580.6L723.8 583.7L722.8 585.9L721.8 588.0L720.8 587.4L719.8 587.8L718.8 593.2L717.8 593.3L716.8 595.6L715.8 596.4L714.8 594.7L713.8 597.9L712.8 597.6L711.8 598.5L710.8 600.5L709.8 598.5L708.8 599.7L707.8 603.1L706.8 602.4L705.8 605.8L704.8 603.4L703.8 605.1L702.8 606.6L701.8 607.9L700.8 612.4L699.8 611.5L698.8 615.9L697.8 617.0L696.8 618.6L695.8 622.3L694.8 619.2L693.8 624.4L692.8 625.3L691.8 628.2L690.8 631.0L689.8 628.0L688.8 630.5L687.8 631.8L686.8 636.1L685.8 632.4L684.8 635.4L683.8 636.4L682.8 639.7L681.8 640.3L680.8 638.9L679.8 636.6L678.8 636.8L677.8 639.4L676.8 640.1L675.8 640.1L674.8 637.5L673.8 641.0L672.8 640.2L671.8 640.6L670.8 642.7L669.8 645.0L668.8 645.0L667.8 649.9L666.8 647.0L665.8 650.6L664.8 653.1L663.8 656.9L662.8 658.0L661.8 665.4L660.8 664.8L659.8 670.0L658.8 672.9L657.8 674.4L656.8 680.7L655.8 681.8L654.8 687.6L653.8 686.5L652.8 688.1L651.8 693.1L650.8 694.6L649.8 698.1L648.8 698.4L647.8 697.9L646.8 703.2L645.8 702.9L644.8 704.1L643.8 704.4L642.8 701.6L641.8 703.4L640.8 700.1L639.8 701.5L638.8 695.5L637.8 698.2L636.8 692.5L635.8 691.3L634.8 688.9L633.8 687.4L632.8 688.2L631.8 683.1L630.8 684.3L629.8 681.2L628.8 680.4L627.8 679.0L626.8 676.4L625.8 673.7L624.8 671.4L623.8 672.9L622.8 673.4L621.8 672.6L620.8 670.8L619.8 671.2L618.8 672.5L617.8 671.6L616.8 672.2L615.8 670.5L614.8 668.9L613.8 672.4L612.8 674.0L611.8 674.5L610.8 673.2L609.8 674.1L608.8 677.6L607.8 675.9L606.8 676.4L605.8 679.2L604.8 679.3L603.8 684.3L602.8 685.0L601.8 682.8L600.8 683.1L599.8 688.2L598.8 686.4L597.8 686.0L596.8 687.1L595.8 691.8L594.8 691.9L593.8 688.6L592.8 693.7L591.8 690.0L590.8 694.9L589.8 692.8L588.8 694.2L587.8 693.3L586.8 696.4L585.8 700.5L584.8 700.3L583.8 701.1L582.8 701.2L581.8 704.0L580.8 707.3L579.8 707.9L578.8 710.7L577.8 714.6L576.8 718.0L575.8 719.0L574.8 719.0L573.8 722.0L572.8 726.2L571.8 730.1L570.8 731.7L569.8 734.0L568.8 739.3L567.8 739.9L566.8 744.0L565.8 741.0L564.8 744.4L563.8 745.6L562.8 748.7L561.8 747.1L560.8 748.4L559.8 747.8L558.8 750.1L557.8 749.1L556.8 747.3L555.8 745.5L554.8 746.0L553.8 744.9L552.8 743.9L551.8 744.3L550.8 739.6L549.8 743.0L548.8 738.4L547.8 741.2L546.8 740.3L545.8 739.2L544.8 737.4L543.8 738.6L542.8 734.7L541.8 737.3L540.8 736.4L539.8 740.5L538.8 741.0L537.8 737.9L536.8 743.4L535.8 741.5L534.8 741.3L533.8 743.7L532.8 744.9L531.8 749.9L530.8 752.7L529.8 750.7L528.8 752.1L527.8 752.2L526.8 752.8L525.8 757.6L524.8 753.9L523.8 753.8L522.8 753.8L521.8 754.1L520.8 753.0L519.8 752.3L518.8 750.0L517.8 752.2L516.8 749.5L515.8 748.1L514.8 745.5L513.8 744.1L512.8 743.5L511.8 739.0L510.8 737.9L509.8 735.6L508.8 737.2L507.8 731.3L506.8 732.1L505.8 731.1L504.8 731.1L503.8 726.3L502.8 728.9L501.8 728.0L500.8 727.9L499.8 726.8L498.8 724.8L497.8 724.8L496.8 726.6L495.8 726.3L494.8 724.5L493.8 729.6L492.8 725.7L491.8 727.5L490.8 724.7L489.8 726.1L488.8 726.8L487.8 725.9L486.8 726.0L485.8 725.1L484.8 727.6L483.8 722.7L482.8 722.7L481.8 724.2L480.8 721.8L479.8 719.0L478.8 719.5L477.8 718.2L476.8 721.6L475.8 720.5L474.8 721.1L473.8 719.3L472.8 722.1L471.8 722.6L470.8 719.3L469.8 725.1L468.8 724.4L467.8 726.4L466.8 726.7L465.8 729.7L464.8 728.8L463.8 734.1L462.8 735.0L461.8 738.2L460.8 740.8L459.8 739.0L458.8 745.6L457.8 746.7L456.8 745.0L455.8 748.7L454.8 749.7L453.8 749.0L452.8 751.8L451.8 750.1L450.8 749.6L449.8 754.0L448.8 750.5L447.8 752.7L446.8 752.0L445.8 748.0L444.8 749.9L443.8 748.8L442.8 746.1L441.8 746.7L440.8 744.3L439.8 742.8L438.8 742.4L437.8 742.4L436.8 741.0L435.8 737.1L434.8 736.2L433.8 736.7L432.8 739.3L431.8 739.1L430.8 737.1L429.8 734.3L428.8 733.1L427.8 736.4L426.8 735.8L425.8 733.4L424.8 734.1L423.8 734.9L422.8 732.3L421.8 732.1L420.8 733.6L419.8 729.4L418.8 728.0L417.8 724.6L416.8 723.0L415.8 722.4L414.8 719.2L413.8 720.0L412.8 714.7L411.8 713.0L410.8 713.3L409.8 710.0L408.8 707.1L407.8 705.1L406.8 700.4L405.8 698.2L404.8 698.6L403.8 699.5L402.8 698.4L401.8 698.9L400.8 699.2L399.8 698.2L398.8 698.2L397.8 701.6L396.8 704.1L395.8 704.4L394.8 706.0L393.8 708.4L392.8 712.3L391.8 714.3L390.8 715.7L389.8 720.3L388.8 721.8L387.8 726.6L386.8 726.3L385.8 730.2L384.8 730.5L383.8 736.2L382.8 735.0L381.8 740.1L380.8 739.3L379.8 741.3L378.8 743.1L377.8 746.3L376.8 743.6L375.8 745.8L374.8 748.2L373.8 746.7L372.8 749.7L371.8 751.3L370.8 749.8L369.8 753.3L368.8 754.1L367.8 754.6L366.8 754.5L365.8 756.5L364.8 758.9L363.8 759.7L362.8 761.7L361.8 764.2L360.8 765.6L359.8 764.1L358.8 766.4L357.8 767.2L356.8 769.6L355.8 772.6L354.8 775.7L353.8 776.9L352.8 779.1L351.8 780.4L350.8 778.5L349.8 782.6L348.8 782.8L347.8 782.2L346.8 782.3L345.8 783.1L344.8 785.3L343.8 783.7L342.8 785.4L341.8 782.3L340.8 781.5L339.8 784.5L338.8 785.2L337.8 785.3L336.8 784.9L335.8 783.0L334.8 785.0L333.8 783.3L332.8 786.7L331.8 787.7L330.8 785.9L329.8 791.4L328.8 790.1L327.8 791.7L326.8 795.0L325.8 795.4L324.8 798.3L323.8 803.3L322.8 805.0L321.8 809.4L320.8 812.6L319.8 811.9L318.8 815.4L317.8 818.0L316.8 821.3L315.8 824.0L314.8 829.7L313.8 832.2L312.8 833.7L311.8 838.2L310.8 840.0L309.8 837.5L308.8 839.8L307.8 841.8L306.8 842.3L305.8 844.8L304.8 843.5L303.8 840.3L302.8 842.0L301.8 839.1L300.8 840.2L299.8 836.7L298.8 837.7L297.8 832.0L296.8 829.4L295.8 829.5L294.8 826.5L293.8 826.2L292.8 825.0L291.8 819.6L290.8 817.7L289.8 817.1L288.8 814.5L287.8 813.0L286.8 810.7L285.8 807.6L284.8 810.7L283.8 809.4L282.8 805.1L281.8 804.0L280.8 804.9L279.8 805.6L278.8 806.5L277.8 806.1L276.8 802.6L275.8 804.3L274.8 803.9L273.8 803.6L272.8 806.8L271.8 805.1L270.8 805.8L269.8 806.7L268.8 809.7L267.8 811.5L266.8 809.6L265.8 812.3L264.8 810.7L263.8 811.9L262.8 811.1L261.8 813.2L260.8 813.8L259.8 815.8L258.8 818.3L257.8 813.9L256.8 816.1L255.8 818.0L254.8 818.5L253.8 817.9L252.8 819.0L251.8 818.0L250.8 819.9L249.8 820.7L248.8 821.2L247.8 823.8L246.8 824.4L245.8 823.9L244.8 821.9L243.8 824.6L242.8 829.5L241.8 829.7L240.8 827.8L239.8 831.0L238.8 835.6L237.8 837.8L236.8 838.4L235.8 841.1L234.8 844.4L233.8 844.9L232.8 848.2L231.8 848.3L230.8 849.1L229.8 852.2L228.8 851.7L227.8 856.7L226.8 857.5L225.8 857.9L224.8 857.2L223.8 856.6L222.8 855.4L221.8 857.4L220.8 854.9L219.8 857.7L218.8 853.9L217.8 852.4L216.8 855.1L215.8 852.7Z" fill="#f08080" fill-opacity="0.2" stroke="none"/>
<path d="M215.8 888.0L216.8 887.7L217.8 889.2L218.8 891.8L219.8 890.8L220.8 893.7L221.8 895.4L222.8 893.8L223.8 893.6L224.8 893.7L225.8 894.0L226.8 893.2L227.8 891.4L228.8 889.9L229.8 886.0L230.8 884.4L231.8 882.7L232.8 882.4L233.8 878.6L234.8 877.8L235.8 873.9L236.8 872.3L237.8 870.9L238.8 870.2L239.8 868.1L240.8 866.2L241.8 863.0L242.8 862.5L243.8 860.9L244.8 859.7L245.8 857.2L246.8 859.2L247.8 855.8L248.8 858.1L249.8 857.6L250.8 853.8L251.8 855.1L252.8 856.2L253.8 856.4L254.8 854.1L255.8 852.6L256.8 851.6L257.8 853.5L258.8 850.3L259.8 851.3L260.8 849.1L261.8 850.2L262.8 851.4L263.8 847.7L264.8 849.7L265.8 847.8L266.8 848.6L267.8 846.9L268.8 844.1L269.8 845.6L270.8 843.3L271.8 840.8L272.8 840.1L273.8 841.6L274.8 841.1L275.8 840.3L276.8 839.0L277.8 839.2L278.8 838.7L279.8 841.0L280.8 838.4L281.8 842.3L282.8 843.4L283.8 841.7L284.8 845.7L285.8 846.2L286.8 848.5L287.8 848.0L288.8 850.3L289.8 852.3L290.8 856.6L291.8 857.2L292.8 858.5L293.8 861.0L294.8 862.8L295.8 864.4L296.8 867.0L297.8 871.7L298.8 871.3L299.8 875.2L300.8 874.3L301.8 876.0L302.8 878.7L303.8 878.4L304.8 879.4L305.8 881.4L306.8 880.8L307.8 880.1L308.8 878.4L309.8 878.0L310.8 876.0L311.8 872.4L312.8 870.6L313.8 865.7L314.8 865.6L315.8 861.7L316.8 859.7L317.8 856.1L318.8 851.6L319.8 847.6L320.8 847.9L321.8 842.1L322.8 840.7L323.8 837.7L324.8 834.6L325.8 833.3L326.8 831.4L327.8 826.5L328.8 826.3L329.8 823.7L330.8 823.5L331.8 821.9L332.8 820.3L333.8 819.8L334.8 819.7L335.8 822.1L336.8 820.3L337.8 818.9L338.8 821.3L339.8 821.8L340.8 820.0L341.8 819.0L342.8 819.2L343.8 818.8L344.8 819.5L345.8 818.0L346.8 817.8L347.8 817.1L348.8 817.8L349.8 818.6L350.8 817.4L351.8 814.9L352.8 813.3L353.8 811.9L354.8 809.7L355.8 807.9L356.8 805.2L357.8 804.2L358.8 805.1L359.8 800.1L360.8 799.7L361.8 798.3L362.8 797.3L363.8 793.5L364.8 792.6L365.8 791.7L366.8 790.9L367.8 789.9L368.8 790.6L369.8 789.5L370.8 788.9L371.8 784.9L372.8 784.2L373.8 786.0L374.8 785.9L375.8 783.0L376.8 782.1L377.8 778.6L378.8 779.3L379.8 780.1L380.8 778.2L381.8 776.0L382.8 774.1L383.8 768.9L384.8 766.5L385.8 764.8L386.8 764.3L387.8 762.5L388.8 760.8L389.8 757.0L390.8 753.6L391.8 750.9L392.8 746.7L393.8 744.2L394.8 739.8L395.8 740.6L396.8 736.6L397.8 737.5L398.8 734.7L399.8 732.4L400.8 731.3L401.8 731.8L402.8 733.2L403.8 734.0L404.8 732.8L405.8 734.3L406.8 737.8L407.8 740.1L408.8 741.6L409.8 743.5L410.8 747.5L411.8 748.1L412.8 751.9L413.8 755.1L414.8 759.3L415.8 760.1L416.8 763.1L417.8 763.3L418.8 764.2L419.8 765.7L420.8 769.6L421.8 769.5L422.8 768.6L423.8 767.9L424.8 770.0L425.8 770.9L426.8 770.7L427.8 770.6L428.8 772.7L429.8 773.8L430.8 771.3L431.8 770.8L432.8 772.6L433.8 773.7L434.8 775.7L435.8 774.6L436.8 777.6L437.8 778.1L438.8 778.1L439.8 778.1L440.8 782.2L441.8 780.8L442.8 783.8L443.8 782.6L444.8 783.7L445.8 786.7L446.8 785.8L447.8 788.5L448.8 786.9L449.8 785.8L450.8 786.5L451.8 787.7L452.8 788.5L453.8 788.5L454.8 783.9L455.8 783.3L456.8 781.2L457.8 782.7L458.8 777.8L459.8 775.3L460.8 772.9L461.8 771.8L462.8 771.6L463.8 769.5L464.8 767.1L465.8 766.0L466.8 764.0L467.8 760.0L468.8 758.1L469.8 759.6L470.8 757.7L471.8 754.0L472.8 755.7L473.8 754.0L474.8 753.9L475.8 754.1L476.8 754.3L477.8 754.1L478.8 755.5L479.8 756.2L480.8 759.4L481.8 757.2L482.8 761.4L483.8 759.4L484.8 760.8L485.8 763.3L486.8 763.9L487.8 762.9L488.8 761.8L489.8 763.6L490.8 763.4L491.8 765.6L492.8 762.8L493.8 763.3L494.8 765.0L495.8 761.1L496.8 762.0L497.8 762.9L498.8 762.4L499.8 759.7L500.8 760.0L501.8 760.6L502.8 764.5L503.8 762.7L504.8 765.6L505.8 767.5L506.8 767.1L507.8 768.6L508.8 773.0L509.8 773.5L510.8 773.5L511.8 776.6L512.8 776.5L513.8 778.2L514.8 778.9L515.8 783.6L516.8 786.0L517.8 786.5L518.8 789.1L519.8 786.8L520.8 788.8L521.8 790.9L522.8 794.0L523.8 794.7L524.8 792.5L525.8 791.2L526.8 791.2L527.8 790.6L528.8 791.3L529.8 787.3L530.8 788.0L531.8 785.7L532.8 783.9L533.8 781.6L534.8 779.2L535.8 776.5L536.8 775.4L537.8 774.7L538.8 775.7L539.8 772.4L540.8 772.3L541.8 774.0L542.8 771.9L543.8 771.4L544.8 771.7L545.8 774.1L546.8 773.5L547.8 776.5L548.8 777.0L549.8 778.5L550.8 776.9L551.8 777.3L552.8 778.6L553.8 781.1L554.8 782.7L555.8 782.2L556.8 782.0L557.8 783.2L558.8 784.2L559.8 784.6L560.8 784.8L561.8 785.2L562.8 784.0L563.8 781.1L564.8 782.6L565.8 779.3L566.8 778.9L567.8 776.4L568.8 775.4L569.8 770.6L570.8 767.9L571.8 765.1L572.8 761.9L573.8 761.8L574.8 757.7L575.8 754.0L576.8 751.7L577.8 751.3L578.8 746.9L579.8 743.3L580.8 743.2L581.8 740.6L582.8 740.4L583.8 735.4L584.8 735.3L585.8 734.7L586.8 733.2L587.8 732.3L588.8 728.1L589.8 728.3L590.8 726.8L591.8 726.4L592.8 728.7L593.8 726.6L594.8 727.2L595.8 724.4L596.8 725.6L597.8 723.4L598.8 722.1L599.8 723.4L600.8 722.9L601.8 718.5L602.8 719.0L603.8 717.9L604.8 715.2L605.8 714.6L606.8 712.6L607.8 711.9L608.8 711.1L609.8 711.4L610.8 710.5L611.8 707.8L612.8 706.2L613.8 706.7L614.8 707.5L615.8 705.0L616.8 704.8L617.8 703.7L618.8 706.2L619.8 705.9L620.8 705.1L621.8 705.7L622.8 707.3L623.8 708.4L624.8 709.4L625.8 708.4L626.8 710.1L627.8 714.0L628.8 714.8L629.8 716.1L630.8 718.1L631.8 722.5L632.8 722.1L633.8 725.0L634.8 726.3L635.8 728.5L636.8 732.0L637.8 734.1L638.8 733.0L639.8 734.0L640.8 737.6L641.8 737.0L642.8 737.0L643.8 740.6L644.8 738.6L645.8 739.6L646.8 737.4L647.8 738.0L648.8 734.8L649.8 731.7L650.8 729.1L651.8 729.0L652.8 727.1L653.8 725.6L654.8 719.7L655.8 718.5L656.8 714.4L657.8 711.8L658.8 707.3L659.8 704.8L660.8 702.4L661.8 700.7L662.8 694.4L663.8 692.9L664.8 691.2L665.8 689.1L666.8 683.6L667.8 681.3L668.8 682.7L669.8 681.4L670.8 678.0L671.8 675.0L672.8 677.9L673.8 675.8L674.8 678.0L675.8 676.6L676.8 677.0L677.8 674.1L678.8 676.2L679.8 673.5L680.8 673.6L681.8 674.8L682.8 674.3L683.8 671.4L684.8 670.6L685.8 670.4L686.8 669.8L687.8 668.5L688.8 666.3L689.8 665.3L690.8 665.7L691.8 664.9L692.8 660.2L693.8 660.4L694.8 659.4L695.8 654.9L696.8 656.0L697.8 651.4L698.8 651.3L699.8 649.1L700.8 647.3L701.8 644.1L702.8 643.0L703.8 642.3L704.8 640.6L705.8 640.2L706.8 638.1L707.8 636.7L708.8 634.5L709.8 636.3L710.8 635.6L711.8 634.0L712.8 635.4L713.8 634.6L714.8 632.6L715.8 630.4L716.8 630.4L717.8 627.6L718.8 626.3L719.8 625.7L720.8 622.5L721.8 621.5L722.8 619.3L723.8 615.4L724.8 615.5L725.8 611.2L726.8 610.9L727.8 608.1L728.8 604.0L729.8 599.0L730.8 597.4L731.8 593.7L732.8 593.0L733.8 587.2L734.8 587.4L735.8 585.4L736.8 582.1L737.8 580.7L738.8 577.2L739.8 579.5L740.8 577.2L741.8 579.1L742.8 579.7L743.8 577.9L744.8 582.2L745.8 585.2L746.8 584.9L747.8 588.9L748.8 593.3L749.8 593.9L750.8 599.2L751.8 599.1L752.8 603.4L753.8 603.2L754.8 607.0L755.8 610.9L756.8 610.5L757.8 612.9L758.8 616.0L759.8 617.2L760.8 618.2L761.8 620.6L762.8 622.4L763.8 626.9L764.8 627.3L765.8 629.4L766.8 628.0L767.8 631.6L768.8 630.0L769.8 632.5L770.8 634.0L771.8 634.5L772.8 638.0L773.8 638.3L774.8 639.8L775.8 642.3L776.8 640.7L777.8 645.6L778.8 645.9L779.8 646.9L780.8 650.0L781.8 649.5L782.8 653.8L783.8 654.0L784.8 654.9L785.8 658.0L786.8 658.3L787.8 658.8L788.8 662.4L789.8 661.3L790.8 665.7L791.8 664.9L792.8 667.2L793.8 668.9L794.8 667.4L795.8 667.9L796.8 666.6L797.8 665.1L798.8 664.3L799.8 663.4L800.8 664.0L801.8 661.8L802.8 660.7L803.8 661.0L804.8 657.1L805.8 656.7L806.8 657.5L807.8 654.6L808.8 654.0L809.8 655.2L810.8 654.5L811.8 656.1L812.8 656.4L813.8 658.2L814.8 658.8L815.8 658.1L816.8 661.4L817.8 662.5L818.8 662.8L819.8 667.4L820.8 666.3L821.8 667.6L822.8 669.0L823.8 672.6L824.8 675.1L825.8 676.5L826.8 676.7L827.8 677.8L828.8 678.1L829.8 681.5L830.8 681.9L831.8 681.8L832.8 683.7L833.8 683.6L834.8 686.6L835.8 687.0L836.8 686.3L837.8 689.7L838.8 687.4L839.8 690.4L840.8 691.5L841.8 692.4L842.8 693.2L843.8 697.4L844.8 696.2L845.8 700.5L846.8 704.2L847.8 703.6L848.8 706.2L849.8 710.4L850.8 712.7L851.8 715.9L852.8 719.6L853.8 720.4L854.8 724.2L855.8 727.0L856.8 729.0L857.8 735.0L858.8 737.4L859.8 739.5L860.8 738.7L861.8 743.5L862.8 744.6L863.8 745.0L864.8 747.1L865.8 746.5L866.8 745.6L867.8 745.3L868.8 745.9L869.8 745.4L870.8 746.2L871.8 747.4L872.8 746.8L873.8 746.7L874.8 745.5L875.8 743.1L876.8 744.2L877.8 744.0L878.8 746.1L879.8 745.7L880.8 745.4L881.8 747.5L882.8 749.2L883.8 747.1L884.8 750.8L885.8 748.9L886.8 751.3L887.8 752.7L888.8 756.3L889.8 758.9L890.8 760.2L891.8 760.6L892.8 764.7L893.8 764.6L894.8 766.4L895.8 770.9L896.8 771.5L897.8 773.6L898.8 775.2L899.8 778.1L900.8 777.0L901.8 778.8L902.8 778.1L903.8 778.4L904.8 776.5L905.8 777.1L906.8 775.8L907.8 773.7L908.8 772.0L909.8 771.8L910.8 768.0L911.8 769.1L912.8 764.5L913.8 762.3L914.8 760.8L915.8 762.1L916.8 758.4L917.8 756.6L918.8 755.1L919.8 754.1L920.8 755.5L921.8 754.5L922.8 754.2L923.8 754.1L924.8 751.4L925.8 753.2L926.8 752.2L927.8 753.8L928.8 753.6L929.8 753.8L930.8 750.9L931.8 754.4L932.8 755.1L933.8 755.4L934.8 752.4L935.8 753.0L936.8 753.0L937.8 752.9L938.8 756.0L939.8 755.6L940.8 754.6L941.8 755.0L942.8 754.5L943.8 753.4L944.8 752.8L945.8 752.4L946.8 754.5L947.8 752.0L948.8 752.3L949.8 752.6L950.8 750.9L951.8 751.7L952.8 752.0L953.8 753.9L954.8 753.2L955.8 753.5L956.8 756.5L957.8 755.0L958.8 756.8L959.8 756.8L960.8 756.3L961.8 759.5L962.8 761.3L963.8 764.3L964.8 764.6L965.8 768.3L966.8 770.2L967.8 771.5L968.8 776.6L969.8 776.5L970.8 782.3L971.8 782.8L972.8 784.9L973.8 788.4L974.8 793.2L975.8 796.8L976.8 795.8L977.8 800.2L978.8 802.5L979.8 806.0L980.8 805.8L981.8 809.0L982.8 810.2L983.8 813.7L984.8 813.5L985.8 817.2L986.8 815.0L987.8 813.8L988.8 814.7L989.8 813.0L990.8 810.8L991.8 811.5L992.8 807.6L993.8 808.2L994.8 805.7L995.8 804.0L996.8 801.1L997.8 797.7L998.8 795.5L999.8 792.9L1000.8 792.3L1001.8 786.7L1002.8 787.5L1003.8 782.3L1004.8 781.7L1005.8 780.9L1006.8 782.3L1007.8 779.8L1008.8 778.8L1009.8 780.5L1010.8 778.1L1011.8 778.7L1012.8 778.6L1013.8 779.5L1014.8 780.4L1015.8 781.2L1016.8 781.3L1017.8 782.0L1018.8 782.1L1019.8 785.3L1020.8 785.2L1021.8 786.1L1022.8 784.6L1023.8 786.4L1024.8 788.2L1025.8 787.5L1026.8 784.9L1027.8 785.3L1028.8 786.0L1029.8 782.7L1030.8 781.7L1031.8 781.2L1032.8 781.7L1033.8 781.1L1034.8 777.4L1035.8 776.2L1036.8 775.5L1037.8 775.1L1038.8 775.0L1039.8 773.1L1040.8 773.2L1041.8 772.4L1042.8 775.1L1043.8 773.9L1044.8 771.3L1045.8 774.6L1046.8 771.6L1047.8 773.0L1048.8 775.6L1049.8 775.2L1050.8 775.4L1051.8 774.7L1052.8 774.0L1053.8 775.7L1054.8 773.6L1055.8 773.8L1056.8 774.5L1057.8 773.2L1058.8 774.2L1059.8 774.9L1060.8 773.2L1061.8 771.2L1062.8 770.7L1063.8 768.8L1064.8 766.0L1065.8 765.6L1066.8 762.8L1067.8 761.9L1068.8 760.6L1069.8 756.7L1070.8 755.1L1071.8 753.5L1072.8 750.0L1073.8 747.4L1074.8 747.3L1075.8 746.3L1076.8 744.3L1077.8 743.6L1078.8 744.2L1079.8 744.0L1080.8 744.7L1081.8 745.3L1082.8 746.7L1083.8 749.8L1084.8 749.9L1085.8 753.5L1086.8 757.3L1087.8 759.4L1088.8 761.5L1089.8 763.0L1090.8 766.7L1091.8 770.0L1092.8 774.0L1093.8 776.6L1094.8 780.8L1095.8 784.4L1096.8 783.8L1097.8 787.8L1098.8 790.8L1099.8 791.8L1100.8 794.4L1101.8 797.9L1102.8 795.5L1103.8 798.3L1104.8 798.1L1105.8 801.8L1106.8 803.7L1107.8 803.1L1108.8 802.6L1109.8 805.4L1110.8 806.4L1111.8 808.1L1112.8 808.4L1113.8 809.7L1114.8 811.5L1115.8 811.5L1116.8 813.0L1117.8 816.9L1118.8 816.0L1119.8 819.4L1120.8 820.0L1121.8 823.1L1122.8 822.2L1123.8 827.1L1124.8 826.3L1125.8 827.1L1126.8 829.7L1127.8 831.7L1128.8 831.2L1129.8 833.8L1130.8 834.5L1131.8 835.2L1132.8 832.9L1133.8 831.2L1134.8 830.4L1135.8 831.6L1136.8 831.5L1137.8 828.4L1138.8 825.5L1139.8 826.1L1140.8 823.2L1141.8 821.2L1142.8 819.5L1143.8 821.0L1144.8 820.1L1145.8 818.4L1146.8 816.5L1147.8 815.9L1148.8 814.0L1149.8 816.2L1150.8 813.4L1151.8 814.4L1152.8 815.7L1153.8 816.6L1154.8 816.2L1155.8 816.4L1156.8 818.3L1157.8 817.9L1158.8 821.7L1159.8 821.0L1160.8 824.0L1161.8 822.9L1162.8 824.4L1163.8 824.9L1164.8 826.6L1165.8 826.7L1166.8 827.1L1167.8 831.0L1168.8 830.5L1169.8 831.5L1170.8 832.2L1171.8 833.2L1172.8 833.4L1173.8 835.1L1174.8 836.1L1175.8 835.9L1176.8 838.7L1177.8 839.2L1178.8 837.2L1179.8 841.2L1180.8 842.5L1181.8 843.0L1182.8 841.9L1183.8 846.1L1184.8 847.3L1185.8 847.1L1186.8 849.2L1187.8 854.9L1188.8 855.7L1189.8 856.2L1190.8 857.8L1191.8 860.2L1192.8 862.7L1193.8 866.9L1194.8 868.1L1195.8 870.2L1196.8 875.6L1197.8 877.2L1198.8 876.7L1199.8 881.4L1200.8 882.4L1201.8 885.0L1202.8 886.2L1203.8 887.7L1204.8 887.6L1205.8 888.2L1206.8 886.4L1207.8 888.3L1208.8 887.0L1209.8 886.5L1210.8 884.1L1211.8 884.5L1212.8 882.4L1213.8 880.6L1214.8 879.9L1215.8 878.5L1216.8 878.9L1217.8 876.3L1218.8 877.4L1219.8 876.2L1220.8 877.9L1221.8 878.6L1222.8 879.4L1223.8 881.6L1224.8 879.8L1225.8 884.8L1226.8 885.3L1227.8 887.2L1228.8 889.1L1229.8 891.3L1230.8 890.9L1231.8 892.4L1232.8 895.8L1233.8 894.0L1234.8 897.7L1235.8 899.2L1236.8 898.7L1237.8 902.6L1238.8 904.6L1239.8 906.3L1240.8 904.1L1241.8 906.1L1242.8 903.8L1243.8 903.3L1244.8 904.0L1245.8 899.1L1246.8 899.5L1247.8 896.9L1248.8 893.8L1249.8 893.8L1250.8 889.9L1251.8 888.6L1252.8 887.1L1253.8 886.3L1254.8 882.0L1255.8 880.8L1256.8 878.7L1257.8 877.4L1258.8 877.1L1259.8 873.9L1260.8 875.3L1261.8 873.1L1262.8 872.9L1263.8 871.1L1264.8 871.4L1265.8 872.8L1266.8 871.5L1267.8 871.9L1268.8 870.0L1269.8 869.5L1270.8 868.9L1271.8 869.5L1272.8 869.8L1273.8 870.6L1274.8 868.0L1275.8 870.0L1276.8 870.1L1277.8 868.1L1278.8 866.2L1279.8 867.0L1280.8 865.8L1281.8 865.8L1282.8 867.9L1283.8 866.0L1284.8 865.6L1285.8 865.6L1286.8 865.6L1287.8 864.2L1288.8 863.9L1289.8 863.7L1290.8 863.8L1291.8 863.5L1292.8 864.1L1293.8 862.2L1294.8 863.8L1295.8 862.9L1296.8 864.3L1297.8 862.2L1298.8 863.3L1299.8 863.9L1300.8 867.9L1301.8 869.6L1302.8 869.5L1303.8 869.6L1304.8 872.9L1305.8 874.7L1306.8 875.7L1307.8 876.5L1308.8 878.7L1309.8 881.4L1310.8 883.5L1311.8 886.6L1312.8 890.2L1313.8 894.0L1314.8 893.5L1315.8 898.5L1316.8 899.6L1317.8 903.2L1318.8 909.2L1319.8 911.4L1320.8 915.0L1321.8 914.9L1322.8 914.4L1323.8 916.4L1324.8 917.2L1325.8 917.9L1326.8 917.1L1327.8 914.1L1328.8 912.9L1329.8 910.6L1330.8 910.9L1331.8 907.0L1332.8 904.2L1333.8 901.0L1334.8 898.2L1335.8 898.0L1336.8 893.0L1337.8 893.3L1338.8 886.8L1339.8 886.9L1340.8 881.5L1341.8 879.1L1342.8 879.9L1343.8 876.2L1344.8 876.3L1345.8 872.9L1346.8 871.6L1347.8 874.0L1348.8 873.6L1349.8 873.8L1350.8 872.8L1351.8 870.3L1352.8 872.6L1353.8 873.2L1354.8 872.6L1355.8 874.7L1356.8 872.8L1357.8 876.2L1358.8 876.0L1359.8 874.2L1360.8 875.0L1361.8 878.1L1362.8 878.6L1363.8 875.2L1364.8 875.3L1365.8 876.9L1366.8 874.6L1367.8 877.2L1368.8 874.9L1369.8 872.0L1370.8 871.6L1371.8 871.0L1372.8 869.1L1373.8 868.7L1374.8 865.5L1375.8 867.0L1376.8 864.4L1377.8 864.3L1378.8 863.0L1379.8 861.0L1380.8 860.0L1381.8 860.6L1382.8 860.6L1383.8 859.7L1384.8 858.8L1385.8 857.7L1386.8 856.8L1387.8 860.2L1388.8 859.2L1389.8 859.2L1390.8 857.0L1391.8 857.7L1392.8 859.3L1393.8 859.0L1394.8 858.3L1395.8 857.0L1396.8 856.8L1397.8 857.5L1398.8 854.3L1399.8 854.2L1400.8 852.7L1401.8 852.4L1402.8 850.2L1403.8 845.9L1404.8 842.3L1405.8 840.8L1406.8 838.9L1407.8 836.9L1408.8 835.1L1409.8 832.7L1410.8 827.0L1411.8 827.7L1412.8 825.6L1413.8 824.1L1414.8 821.5L1415.8 819.0L1416.8 820.3L1417.8 820.2L1418.8 820.8L1419.8 822.8L1420.8 821.9L1421.8 822.1L1422.8 825.7L1423.8 828.8L1424.8 829.0L1425.8 833.6L1426.8 836.7L1427.8 836.5L1428.8 840.8L1429.8 843.9L1430.8 846.0L1431.8 847.5L1432.8 850.1L1433.8 854.3L1434.8 856.6L1435.8 857.5L1436.8 858.2L1437.8 862.8L1438.8 864.3L1439.8 863.9L1440.8 866.9L1441.8 869.8L1442.8 871.1L1443.8 870.8L1444.8 871.5L1445.8 872.8L1446.8 872.2L1447.8 873.2L1448.8 874.1L1449.8 876.8L1450.8 876.3L1451.8 878.2L1452.8 879.3L1453.8 881.5L1454.8 881.9L1455.8 883.1L1456.8 888.3L1457.8 887.5L1458.8 888.4L1459.8 892.3L1460.8 894.7L1461.8 893.8L1462.8 897.0L1463.8 897.6L1464.8 899.5L1465.8 898.8L1466.8 899.6L1467.8 903.6L1468.8 903.4L1469.8 902.2L1470.8 903.3L1471.8 902.7L1472.8 904.7L1473.8 902.3L1474.8 902.7L1475.8 900.4L1476.8 899.4L1477.8 898.5L1478.8 894.1L1479.8 891.3L1480.8 890.0L1481.8 887.9L1482.8 885.9L1483.8 884.6L1484.8 885.7L1485.8 886.3L1486.8 884.2L1487.8 885.5L1488.8 884.8L1489.8 881.3L1490.8 883.3L1491.8 882.8L1492.8 882.2L1493.8 885.7L1494.8 883.9L1495.8 886.1L1496.8 887.6L1497.8 889.8L1498.8 889.7L1499.8 889.6L1500.8 891.1L1501.8 891.4L1502.8 895.7L1503.8 897.0L1504.8 895.1L1505.8 895.6L1506.8 897.7L1507.8 899.1L1508.8 902.0L1509.8 902.4L1510.8 902.4L1511.8 899.8L1512.8 903.1L1513.8 903.3L1514.8 903.5L1515.8 905.5L1516.8 902.7L1517.8 903.8L1518.8 906.7L1519.8 907.9L1520.8 907.7L1521.8 907.8L1522.8 910.8L1523.8 913.6L1524.8 913.1L1525.8 916.0L1526.8 917.9L1527.8 919.8L1528.8 923.7L1529.8 925.0L1530.8 927.6L1531.8 929.6L1532.8 933.9L1533.8 933.6L1534.8 938.6L1535.8 938.8L1536.8 940.5L1537.8 946.1L1538.8 945.3L1539.8 949.2L1540.8 949.7L1541.8 950.6L1542.8 948.7L1543.8 950.8L1544.8 950.0L1545.8 953.3L1546.8 952.5L1547.8 951.0L1548.8 949.0L1549.8 947.2L1550.8 947.8L1551.8 945.9L1552.8 946.1L1553.8 943.9L1554.8 943.5L1555.8 942.2L1556.8 944.1L1557.8 942.9L1558.8 941.1L1559.8 943.8L1560.8 942.2L1561.8 943.4L1562.8 943.5L1563.8 945.0L1564.8 948.6L1565.8 948.0L1566.8 948.6L1567.8 951.0L1568.8 951.6L1569.8 953.8L1570.8 952.5L1571.8 953.8L1572.8 952.7L1573.8 953.8L1574.8 953.8L1575.8 953.4L1576.8 953.8L1577.8 953.2L1578.8 953.3L1579.8 953.2L1580.8 953.8L1581.8 953.8L1582.8 953.8L1583.8 953.8L1584.8 953.1L1585.8 953.8L1586.8 953.8L1587.8 953.3L1588.8 953.8L1589.8 953.5L1590.8 953.8L1591.8 948.7L1592.8 949.2L1593.8 945.0L1594.8 942.1L1595.8 939.7L1596.8 941.3L1597.8 938.5L1598.8 935.9L1599.8 935.7L1600.8 936.6L1601.8 933.0L1602.8 933.6L1603.8 931.1L1604.8 930.6L1605.8 932.1L1606.8 931.3L1607.8 928.8L1608.8 927.9L1609.8 927.5L1610.8 929.1L1611.8 928.4L1612.8 927.2L1613.8 926.7L1614.8 928.0L1615.8 928.2L1616.8 928.3L1617.8 927.0L1618.8 925.1L1619.8 924.1L1620.8 926.5L1621.8 925.0L1622.8 925.9L1623.8 922.7L1624.8 924.8L1625.8 922.3L1626.8 923.8L1627.8 923.6L1628.8 921.9L1629.8 919.7L1630.8 922.8L1631.8 920.9L1632.8 922.4L1633.8 920.2L1634.8 920.3L1635.8 923.0L1636.8 921.4L1637.8 920.9L1638.8 922.2L1639.8 923.9L1640.8 922.9L1641.8 926.8L1642.8 928.3L1643.8 930.7L1644.8 931.2L1645.8 935.7L1646.8 938.3L1647.8 940.6L1648.8 940.7L1649.8 944.3L1650.8 945.3L1651.8 949.0L1652.8 948.6L1653.8 953.5L1654.8 953.8L1655.8 953.8L1656.8 953.8" fill="none" stroke="#4361ee" stroke-opacity="0.86" stroke-width="6.8" stroke-linejoin="round" stroke-linecap="butt"/>
<circle cx="1417.6" cy="818.3" r="11.25" fill="#ffb3c1" stroke="#d90429" stroke-width="4.2"/>
<line x1="1417.6" y1="818.3" x2="1417.6" y2="807.05" stroke="#d90429" stroke-width="2.4"/>
<circle cx="1570.5" cy="954.2" r="11.25" fill="#90ee90" stroke="#087f5b" stroke-width="4.2"/>
<g font-family="Liberation Sans, sans-serif" fill="#495057">
<text x="114.8" y="963.35" font-size="26.8" text-anchor="end" textLength="34" lengthAdjust="spacingAndGlyphs">$0</text>
<text x="114.8" y="797.85" font-size="26.8" text-anchor="end" textLength="34" lengthAdjust="spacingAndGlyphs">$1</text>
<text x="114.8" y="632.35" font-size="26.8" text-anchor="end" textLength="34" lengthAdjust="spacingAndGlyphs">$2</text>
<text x="114.8" y="466.85" font-size="26.8" text-anchor="end" textLength="34" lengthAdjust="spacingAndGlyphs">$3</text>
<text x="114.8" y="301.35" font-size="26.8" text-anchor="end" textLength="34" lengthAdjust="spacingAndGlyphs">$4</text>
<text x="114.8" y="135.85" font-size="26.8" text-anchor="end" textLength="34" lengthAdjust="spacingAndGlyphs">$5</text>
<text x="350.75" y="1028.2" font-size="26.8" text-anchor="middle" textLength="69.5" lengthAdjust="spacingAndGlyphs">2023</text>
<text x="689.7" y="1028.2" font-size="26.8" text-anchor="middle" textLength="69.5" lengthAdjust="spacingAndGlyphs">2024</text>
<text x="1029.5" y="1028.2" font-size="26.8" text-anchor="middle" textLength="69.5" lengthAdjust="spacingAndGlyphs">2025</text>
<text x="1368.5" y="1028.2" font-size="26.8" text-anchor="middle" textLength="69.5" lengthAdjust="spacingAndGlyphs">2026</text>
<text x="1707.4" y="1028.2" font-size="26.8" text-anchor="middle" textLength="69.5" lengthAdjust="spacingAndGlyphs">2027</text>
<text x="929.7" y="1065" font-size="32.6" text-anchor="middle" textLength="78.5" lengthAdjust="spacingAndGlyphs">Date</text>
<text transform="translate(65.5 558.5) rotate(-90)" font-size="32.6" text-anchor="middle" textLength="188" lengthAdjust="spacingAndGlyphs">Price (USD)</text>
</g>
<text font-family="Liberation Sans, sans-serif" x="1299.0" y="793.4" font-size="26.8" font-weight="bold" fill="#d90429" stroke="#d90429" stroke-width="0.5" textLength="238" lengthAdjust="spacingAndGlyphs">Peak: Feb 2026</text>
<text font-family="Liberation Sans, sans-serif" x="1433.0" y="973.8" font-size="26.8" font-weight="bold" fill="#087f5b" stroke="#087f5b" stroke-width="0.5" textLength="274.5" lengthAdjust="spacingAndGlyphs">Trough: Aug 2026</text>
<line x1="164.3" y1="80.5" x2="202.8" y2="80.5" stroke="#4361ee" stroke-width="9"/>
<line x1="348.5" y1="80.5" x2="386.8" y2="80.5" stroke="#2b2d42" stroke-width="8.8"/>
<rect x="671" y="59" width="44" height="44" fill="#d6ebf2"/>
<rect x="954" y="59" width="44" height="44" fill="#f7bfbf"/>
<g font-family="Liberation Sans, sans-serif" fill="#111111" font-size="25">
<text x="223" y="90.4" textLength="105" lengthAdjust="spacingAndGlyphs">Forecast</text>
<text x="407" y="90.4" textLength="186" lengthAdjust="spacingAndGlyphs">Historical Price</text>
<text x="732" y="90.4" textLength="204" lengthAdjust="spacingAndGlyphs">60% Confidence</text>
<text x="1015" y="90.4" textLength="252" lengthAdjust="spacingAndGlyphs">Potential Resistance</text>
</g>
</svg>
</body></html>
